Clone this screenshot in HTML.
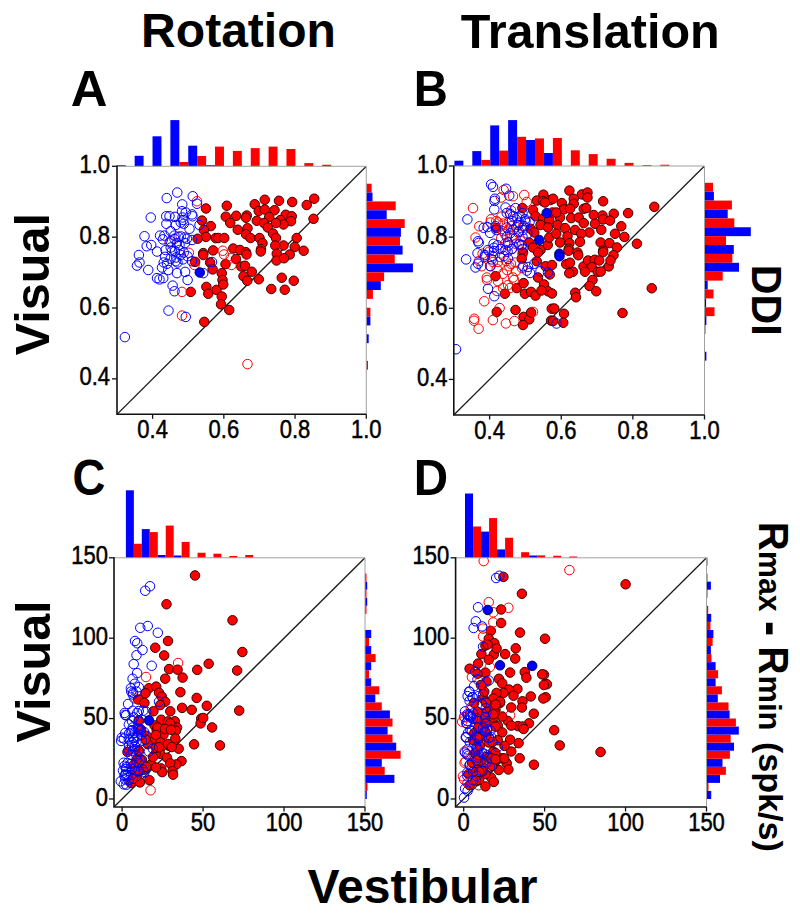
<!DOCTYPE html><html><head><meta charset="utf-8"><style>html,body{margin:0;padding:0;background:#fff;}svg{display:block;}text{font-family:"Liberation Sans",sans-serif;fill:#000;}.tl{stroke:#000;stroke-width:0.45px;}</style></head><body>
<svg width="800" height="917" viewBox="0 0 800 917">
<rect width="800" height="917" fill="#fff"/>
<rect x="116.8" y="165.2" width="8.93" height="1.1" fill="#0000ff"/>
<rect x="134.66" y="155.8" width="8.93" height="10.5" fill="#0000ff"/>
<rect x="152.52" y="136.3" width="8.93" height="30" fill="#0000ff"/>
<rect x="170.38" y="120.1" width="8.93" height="46.2" fill="#0000ff"/>
<rect x="188.24" y="145.7" width="8.93" height="20.6" fill="#0000ff"/>
<rect x="206.1" y="165.2" width="8.93" height="1.1" fill="#0000ff"/>
<rect x="179.31" y="162" width="8.93" height="4.3" fill="#ff0000"/>
<rect x="197.17" y="156" width="8.93" height="10.3" fill="#ff0000"/>
<rect x="215.03" y="146.6" width="8.93" height="19.7" fill="#ff0000"/>
<rect x="232.89" y="150.9" width="8.93" height="15.4" fill="#ff0000"/>
<rect x="250.75" y="148.1" width="8.93" height="18.2" fill="#ff0000"/>
<rect x="268.61" y="146.6" width="8.93" height="19.7" fill="#ff0000"/>
<rect x="286.47" y="149" width="8.93" height="17.3" fill="#ff0000"/>
<rect x="304.33" y="163.1" width="8.93" height="3.2" fill="#ff0000"/>
<rect x="322.19" y="164.75" width="8.93" height="1.55" fill="#ff0000"/>
<rect x="366.3" y="183.71" width="5.3" height="8.86" fill="#ff0000"/>
<rect x="366.3" y="192.57" width="6.2" height="8.86" fill="#0000ff"/>
<rect x="366.3" y="201.43" width="29.4" height="8.86" fill="#ff0000"/>
<rect x="366.3" y="210.28" width="20.4" height="8.86" fill="#0000ff"/>
<rect x="366.3" y="219.14" width="38.4" height="8.86" fill="#ff0000"/>
<rect x="366.3" y="228" width="34.6" height="8.86" fill="#0000ff"/>
<rect x="366.3" y="236.86" width="33.7" height="8.86" fill="#ff0000"/>
<rect x="366.3" y="245.71" width="36.3" height="8.86" fill="#0000ff"/>
<rect x="366.3" y="254.57" width="28.45" height="8.86" fill="#ff0000"/>
<rect x="366.3" y="263.43" width="46.6" height="8.86" fill="#0000ff"/>
<rect x="366.3" y="272.28" width="17.8" height="8.86" fill="#ff0000"/>
<rect x="366.3" y="281.14" width="14.5" height="8.86" fill="#0000ff"/>
<rect x="366.3" y="290" width="6.6" height="8.86" fill="#ff0000"/>
<rect x="366.3" y="307.71" width="4.1" height="8.86" fill="#ff0000"/>
<rect x="366.3" y="316.57" width="4.1" height="8.86" fill="#0000ff"/>
<rect x="366.3" y="334.28" width="2.4" height="8.86" fill="#0000ff"/>
<rect x="366.3" y="360.85" width="1.7" height="8.86" fill="#ff0000"/>
<rect x="454.4" y="160.7" width="8.95" height="5.3" fill="#0000ff"/>
<rect x="472.31" y="151.1" width="8.95" height="14.9" fill="#0000ff"/>
<rect x="490.22" y="125.4" width="8.95" height="40.6" fill="#0000ff"/>
<rect x="508.13" y="120.1" width="8.96" height="45.9" fill="#0000ff"/>
<rect x="526.04" y="140" width="8.96" height="26" fill="#0000ff"/>
<rect x="543.95" y="153" width="8.96" height="13" fill="#0000ff"/>
<rect x="481.26" y="159.9" width="8.95" height="6.1" fill="#ff0000"/>
<rect x="499.17" y="150.6" width="8.95" height="15.4" fill="#ff0000"/>
<rect x="517.09" y="136.8" width="8.96" height="29.2" fill="#ff0000"/>
<rect x="535" y="138.4" width="8.96" height="27.6" fill="#ff0000"/>
<rect x="552.9" y="138" width="8.96" height="28" fill="#ff0000"/>
<rect x="570.82" y="150.3" width="8.96" height="15.7" fill="#ff0000"/>
<rect x="588.73" y="154.1" width="8.96" height="11.9" fill="#ff0000"/>
<rect x="606.63" y="158.75" width="8.96" height="7.25" fill="#ff0000"/>
<rect x="624.54" y="162.9" width="8.96" height="3.1" fill="#ff0000"/>
<rect x="642.46" y="165.1" width="8.96" height="0.9" fill="#ff0000"/>
<rect x="660.37" y="164.75" width="8.96" height="1.25" fill="#ff0000"/>
<rect x="704.5" y="182.79" width="8.5" height="8.89" fill="#ff0000"/>
<rect x="704.5" y="191.68" width="9.4" height="8.89" fill="#0000ff"/>
<rect x="704.5" y="200.57" width="27.4" height="8.89" fill="#ff0000"/>
<rect x="704.5" y="209.47" width="23.2" height="8.89" fill="#0000ff"/>
<rect x="704.5" y="218.36" width="29.8" height="8.89" fill="#ff0000"/>
<rect x="704.5" y="227.25" width="46.3" height="8.89" fill="#0000ff"/>
<rect x="704.5" y="236.14" width="21.5" height="8.89" fill="#ff0000"/>
<rect x="704.5" y="245.04" width="29.3" height="8.89" fill="#0000ff"/>
<rect x="704.5" y="253.93" width="27.8" height="8.89" fill="#ff0000"/>
<rect x="704.5" y="262.82" width="34.5" height="8.89" fill="#0000ff"/>
<rect x="704.5" y="271.72" width="18.2" height="8.89" fill="#ff0000"/>
<rect x="704.5" y="280.61" width="3.2" height="8.89" fill="#0000ff"/>
<rect x="704.5" y="289.5" width="9" height="8.89" fill="#ff0000"/>
<rect x="704.5" y="298.39" width="1.6" height="8.89" fill="#0000ff"/>
<rect x="704.5" y="307.29" width="10" height="8.89" fill="#ff0000"/>
<rect x="704.5" y="316.18" width="1.9" height="8.89" fill="#0000ff"/>
<rect x="704.5" y="325.07" width="1" height="8.89" fill="#ff0000"/>
<rect x="704.5" y="351.75" width="1.9" height="8.89" fill="#0000ff"/>
<rect x="125.9" y="490.3" width="7.95" height="67.5" fill="#0000ff"/>
<rect x="141.8" y="529.1" width="7.95" height="28.7" fill="#0000ff"/>
<rect x="157.7" y="555" width="7.95" height="2.8" fill="#0000ff"/>
<rect x="173.6" y="555.5" width="7.95" height="2.3" fill="#0000ff"/>
<rect x="133.95" y="543.75" width="7.95" height="14.05" fill="#ff0000"/>
<rect x="149.85" y="532.1" width="7.95" height="25.7" fill="#ff0000"/>
<rect x="165.75" y="525.6" width="7.95" height="32.2" fill="#ff0000"/>
<rect x="181.65" y="541.9" width="7.95" height="15.9" fill="#ff0000"/>
<rect x="197.55" y="552.75" width="7.95" height="5.05" fill="#ff0000"/>
<rect x="213.45" y="553.7" width="7.95" height="4.1" fill="#ff0000"/>
<rect x="229.35" y="556" width="7.95" height="1.8" fill="#ff0000"/>
<rect x="245.25" y="555" width="7.95" height="2.8" fill="#ff0000"/>
<rect x="365" y="790.95" width="1.8" height="8.05" fill="#0000ff"/>
<rect x="365" y="782.9" width="2.5" height="8.05" fill="#ff0000"/>
<rect x="365" y="774.85" width="29.4" height="8.05" fill="#0000ff"/>
<rect x="365" y="766.8" width="19.7" height="8.05" fill="#ff0000"/>
<rect x="365" y="758.75" width="16.8" height="8.05" fill="#0000ff"/>
<rect x="365" y="750.7" width="35.6" height="8.05" fill="#ff0000"/>
<rect x="365" y="742.65" width="31.2" height="8.05" fill="#0000ff"/>
<rect x="365" y="734.6" width="27.5" height="8.05" fill="#ff0000"/>
<rect x="365" y="726.55" width="22.6" height="8.05" fill="#0000ff"/>
<rect x="365" y="718.5" width="27.5" height="8.05" fill="#ff0000"/>
<rect x="365" y="710.45" width="24.9" height="8.05" fill="#0000ff"/>
<rect x="365" y="702.4" width="16.8" height="8.05" fill="#ff0000"/>
<rect x="365" y="694.35" width="10.3" height="8.05" fill="#0000ff"/>
<rect x="365" y="686.3" width="14.3" height="8.05" fill="#ff0000"/>
<rect x="365" y="678.25" width="6.2" height="8.05" fill="#0000ff"/>
<rect x="365" y="670.2" width="4" height="8.05" fill="#ff0000"/>
<rect x="365" y="662.15" width="6.2" height="8.05" fill="#0000ff"/>
<rect x="365" y="654.1" width="10.6" height="8.05" fill="#ff0000"/>
<rect x="365" y="646.05" width="6.2" height="8.05" fill="#0000ff"/>
<rect x="365" y="638" width="4" height="8.05" fill="#ff0000"/>
<rect x="365" y="629.95" width="6.2" height="8.05" fill="#0000ff"/>
<rect x="365" y="605.8" width="1.5" height="8.05" fill="#ff0000"/>
<rect x="365" y="597.75" width="2.2" height="8.05" fill="#0000ff"/>
<rect x="365" y="589.7" width="1.5" height="8.05" fill="#ff0000"/>
<rect x="365" y="581.65" width="2.2" height="8.05" fill="#0000ff"/>
<rect x="365" y="573.6" width="1.5" height="8.05" fill="#ff0000"/>
<rect x="465" y="493.5" width="8" height="64.3" fill="#0000ff"/>
<rect x="481.03" y="531.6" width="8" height="26.2" fill="#0000ff"/>
<rect x="497.06" y="549.4" width="8" height="8.4" fill="#0000ff"/>
<rect x="529.12" y="555.5" width="8" height="2.3" fill="#0000ff"/>
<rect x="473.05" y="526.5" width="8" height="31.3" fill="#ff0000"/>
<rect x="489.08" y="518.1" width="8" height="39.7" fill="#ff0000"/>
<rect x="505.11" y="537.75" width="8" height="20.05" fill="#ff0000"/>
<rect x="521.14" y="552.2" width="8" height="5.6" fill="#ff0000"/>
<rect x="537.17" y="555.4" width="8" height="2.4" fill="#ff0000"/>
<rect x="553.2" y="555.75" width="8" height="2.05" fill="#ff0000"/>
<rect x="569.23" y="556.5" width="8" height="1.3" fill="#ff0000"/>
<rect x="706.5" y="790.95" width="4.7" height="8.05" fill="#0000ff"/>
<rect x="706.5" y="782.9" width="2" height="8.05" fill="#ff0000"/>
<rect x="706.5" y="774.85" width="13.5" height="8.05" fill="#0000ff"/>
<rect x="706.5" y="766.8" width="19.4" height="8.05" fill="#ff0000"/>
<rect x="706.5" y="758.75" width="16" height="8.05" fill="#0000ff"/>
<rect x="706.5" y="750.7" width="23.4" height="8.05" fill="#ff0000"/>
<rect x="706.5" y="742.65" width="27.5" height="8.05" fill="#0000ff"/>
<rect x="706.5" y="734.6" width="24.2" height="8.05" fill="#ff0000"/>
<rect x="706.5" y="726.55" width="32.3" height="8.05" fill="#0000ff"/>
<rect x="706.5" y="718.5" width="29.4" height="8.05" fill="#ff0000"/>
<rect x="706.5" y="710.45" width="23.1" height="8.05" fill="#0000ff"/>
<rect x="706.5" y="702.4" width="22" height="8.05" fill="#ff0000"/>
<rect x="706.5" y="694.35" width="11.3" height="8.05" fill="#0000ff"/>
<rect x="706.5" y="686.3" width="15.4" height="8.05" fill="#ff0000"/>
<rect x="706.5" y="678.25" width="9.1" height="8.05" fill="#0000ff"/>
<rect x="706.5" y="670.2" width="11.6" height="8.05" fill="#ff0000"/>
<rect x="706.5" y="662.15" width="9.1" height="8.05" fill="#0000ff"/>
<rect x="706.5" y="654.1" width="5" height="8.05" fill="#ff0000"/>
<rect x="706.5" y="646.05" width="4.4" height="8.05" fill="#0000ff"/>
<rect x="706.5" y="638" width="6.1" height="8.05" fill="#ff0000"/>
<rect x="706.5" y="629.95" width="6.9" height="8.05" fill="#0000ff"/>
<rect x="706.5" y="621.9" width="3.9" height="8.05" fill="#ff0000"/>
<rect x="706.5" y="613.85" width="4.7" height="8.05" fill="#0000ff"/>
<rect x="706.5" y="605.8" width="1.7" height="8.05" fill="#ff0000"/>
<rect x="706.5" y="589.7" width="1" height="8.05" fill="#ff0000"/>
<rect x="706.5" y="581.65" width="4.4" height="8.05" fill="#0000ff"/>
<rect x="706.5" y="573.6" width="1" height="8.05" fill="#ff0000"/>
<rect x="706.5" y="557.5" width="1" height="8.05" fill="#ff0000"/>
<clipPath id="ca"><rect x="117" y="166.3" width="249.3" height="248"/></clipPath>
<g clip-path="url(#ca)">
<line x1="117" y1="414.3" x2="366.3" y2="166.3" stroke="#1a1a1a" stroke-width="1.3"/>
<circle cx="206" cy="208.5" r="4.75" fill="#ff0000" stroke="#3a0000" stroke-width="1.0"/>
<circle cx="202" cy="220.6" r="4.75" fill="#ff0000" stroke="#3a0000" stroke-width="1.0"/>
<circle cx="210.8" cy="226.12" r="4.75" fill="#ff0000" stroke="#3a0000" stroke-width="1.0"/>
<circle cx="203.9" cy="230" r="4.75" fill="#ff0000" stroke="#3a0000" stroke-width="1.0"/>
<circle cx="206" cy="236.9" r="4.75" fill="#ff0000" stroke="#3a0000" stroke-width="1.0"/>
<circle cx="197.6" cy="238.75" r="4.75" fill="#ff0000" stroke="#3a0000" stroke-width="1.0"/>
<circle cx="215.75" cy="238.1" r="4.75" fill="#ff0000" stroke="#3a0000" stroke-width="1.0"/>
<circle cx="203.25" cy="253.1" r="4.75" fill="#ff0000" stroke="#3a0000" stroke-width="1.0"/>
<circle cx="213.12" cy="250.38" r="4.75" fill="#ff0000" stroke="#3a0000" stroke-width="1.0"/>
<circle cx="203.25" cy="255" r="4.75" fill="#ff0000" stroke="#3a0000" stroke-width="1.0"/>
<circle cx="195.1" cy="261.9" r="4.75" fill="#ff0000" stroke="#3a0000" stroke-width="1.0"/>
<circle cx="210.1" cy="262.5" r="4.75" fill="#ff0000" stroke="#3a0000" stroke-width="1.0"/>
<circle cx="212.6" cy="269.4" r="4.75" fill="#ff0000" stroke="#3a0000" stroke-width="1.0"/>
<circle cx="206.4" cy="286.9" r="4.75" fill="#ff0000" stroke="#3a0000" stroke-width="1.0"/>
<circle cx="190.75" cy="291.9" r="4.75" fill="#ff0000" stroke="#3a0000" stroke-width="1.0"/>
<circle cx="208.25" cy="293.75" r="4.75" fill="#ff0000" stroke="#3a0000" stroke-width="1.0"/>
<circle cx="216.5" cy="289.88" r="4.75" fill="#ff0000" stroke="#3a0000" stroke-width="1.0"/>
<circle cx="204.25" cy="321.9" r="4.75" fill="#ff0000" stroke="#3a0000" stroke-width="1.0"/>
<circle cx="226.8" cy="205.75" r="4.75" fill="#ff0000" stroke="#3a0000" stroke-width="1.0"/>
<circle cx="264.75" cy="199.75" r="4.75" fill="#ff0000" stroke="#3a0000" stroke-width="1.0"/>
<circle cx="279" cy="200.8" r="4.75" fill="#ff0000" stroke="#3a0000" stroke-width="1.0"/>
<circle cx="292.2" cy="202" r="4.75" fill="#ff0000" stroke="#3a0000" stroke-width="1.0"/>
<circle cx="314.25" cy="198.7" r="4.75" fill="#ff0000" stroke="#3a0000" stroke-width="1.0"/>
<circle cx="306.75" cy="205" r="4.75" fill="#ff0000" stroke="#3a0000" stroke-width="1.0"/>
<circle cx="254.7" cy="204.25" r="4.75" fill="#ff0000" stroke="#3a0000" stroke-width="1.0"/>
<circle cx="225.75" cy="216.7" r="4.75" fill="#ff0000" stroke="#3a0000" stroke-width="1.0"/>
<circle cx="236.25" cy="215.8" r="4.75" fill="#ff0000" stroke="#3a0000" stroke-width="1.0"/>
<circle cx="246.75" cy="215.5" r="4.75" fill="#ff0000" stroke="#3a0000" stroke-width="1.0"/>
<circle cx="246" cy="217.75" r="4.75" fill="#ff0000" stroke="#3a0000" stroke-width="1.0"/>
<circle cx="258.75" cy="211" r="4.75" fill="#ff0000" stroke="#3a0000" stroke-width="1.0"/>
<circle cx="264.75" cy="209.5" r="4.75" fill="#ff0000" stroke="#3a0000" stroke-width="1.0"/>
<circle cx="274.5" cy="210.25" r="4.75" fill="#ff0000" stroke="#3a0000" stroke-width="1.0"/>
<circle cx="269.25" cy="217" r="4.75" fill="#ff0000" stroke="#3a0000" stroke-width="1.0"/>
<circle cx="256.8" cy="220.75" r="4.75" fill="#ff0000" stroke="#3a0000" stroke-width="1.0"/>
<circle cx="285.75" cy="214.75" r="4.75" fill="#ff0000" stroke="#3a0000" stroke-width="1.0"/>
<circle cx="291.75" cy="216.25" r="4.75" fill="#ff0000" stroke="#3a0000" stroke-width="1.0"/>
<circle cx="291" cy="221.2" r="4.75" fill="#ff0000" stroke="#3a0000" stroke-width="1.0"/>
<circle cx="280.5" cy="220" r="4.75" fill="#ff0000" stroke="#3a0000" stroke-width="1.0"/>
<circle cx="283.5" cy="224.5" r="4.75" fill="#ff0000" stroke="#3a0000" stroke-width="1.0"/>
<circle cx="276" cy="223" r="4.75" fill="#ff0000" stroke="#3a0000" stroke-width="1.0"/>
<circle cx="264" cy="223" r="4.75" fill="#ff0000" stroke="#3a0000" stroke-width="1.0"/>
<circle cx="267.75" cy="227.5" r="4.75" fill="#ff0000" stroke="#3a0000" stroke-width="1.0"/>
<circle cx="313.5" cy="218.8" r="4.75" fill="#ff0000" stroke="#3a0000" stroke-width="1.0"/>
<circle cx="230.25" cy="223" r="4.75" fill="#ff0000" stroke="#3a0000" stroke-width="1.0"/>
<circle cx="237.75" cy="229.75" r="4.75" fill="#ff0000" stroke="#3a0000" stroke-width="1.0"/>
<circle cx="247.5" cy="228.25" r="4.75" fill="#ff0000" stroke="#3a0000" stroke-width="1.0"/>
<circle cx="246" cy="234.25" r="4.75" fill="#ff0000" stroke="#3a0000" stroke-width="1.0"/>
<circle cx="250.5" cy="238" r="4.75" fill="#ff0000" stroke="#3a0000" stroke-width="1.0"/>
<circle cx="273" cy="233.5" r="4.75" fill="#ff0000" stroke="#3a0000" stroke-width="1.0"/>
<circle cx="276" cy="238" r="4.75" fill="#ff0000" stroke="#3a0000" stroke-width="1.0"/>
<circle cx="259.5" cy="238" r="4.75" fill="#ff0000" stroke="#3a0000" stroke-width="1.0"/>
<circle cx="262.5" cy="243.25" r="4.75" fill="#ff0000" stroke="#3a0000" stroke-width="1.0"/>
<circle cx="218.25" cy="238" r="4.75" fill="#ff0000" stroke="#3a0000" stroke-width="1.0"/>
<circle cx="224.25" cy="238" r="4.75" fill="#ff0000" stroke="#3a0000" stroke-width="1.0"/>
<circle cx="296.7" cy="238" r="4.75" fill="#ff0000" stroke="#3a0000" stroke-width="1.0"/>
<circle cx="283.5" cy="245.5" r="4.75" fill="#ff0000" stroke="#3a0000" stroke-width="1.0"/>
<circle cx="275.25" cy="245.5" r="4.75" fill="#ff0000" stroke="#3a0000" stroke-width="1.0"/>
<circle cx="294.75" cy="247" r="4.75" fill="#ff0000" stroke="#3a0000" stroke-width="1.0"/>
<circle cx="303.62" cy="250.75" r="4.75" fill="#ff0000" stroke="#3a0000" stroke-width="1.0"/>
<circle cx="233.25" cy="248.5" r="4.75" fill="#ff0000" stroke="#3a0000" stroke-width="1.0"/>
<circle cx="240" cy="250" r="4.75" fill="#ff0000" stroke="#3a0000" stroke-width="1.0"/>
<circle cx="246" cy="252.25" r="4.75" fill="#ff0000" stroke="#3a0000" stroke-width="1.0"/>
<circle cx="261" cy="249.25" r="4.75" fill="#ff0000" stroke="#3a0000" stroke-width="1.0"/>
<circle cx="276.75" cy="253.75" r="4.75" fill="#ff0000" stroke="#3a0000" stroke-width="1.0"/>
<circle cx="289.75" cy="254.5" r="4.75" fill="#ff0000" stroke="#3a0000" stroke-width="1.0"/>
<circle cx="236" cy="259" r="4.75" fill="#ff0000" stroke="#3a0000" stroke-width="1.0"/>
<circle cx="246.5" cy="254.5" r="4.75" fill="#ff0000" stroke="#3a0000" stroke-width="1.0"/>
<circle cx="260.75" cy="251.5" r="4.75" fill="#ff0000" stroke="#3a0000" stroke-width="1.0"/>
<circle cx="225.5" cy="264.25" r="4.75" fill="#ff0000" stroke="#3a0000" stroke-width="1.0"/>
<circle cx="221.75" cy="273.25" r="4.75" fill="#ff0000" stroke="#3a0000" stroke-width="1.0"/>
<circle cx="222.5" cy="280" r="4.75" fill="#ff0000" stroke="#3a0000" stroke-width="1.0"/>
<circle cx="223.25" cy="284.5" r="4.75" fill="#ff0000" stroke="#3a0000" stroke-width="1.0"/>
<circle cx="241.25" cy="266.5" r="4.75" fill="#ff0000" stroke="#3a0000" stroke-width="1.0"/>
<circle cx="245" cy="265.75" r="4.75" fill="#ff0000" stroke="#3a0000" stroke-width="1.0"/>
<circle cx="251.75" cy="271.75" r="4.75" fill="#ff0000" stroke="#3a0000" stroke-width="1.0"/>
<circle cx="243.5" cy="276.25" r="4.75" fill="#ff0000" stroke="#3a0000" stroke-width="1.0"/>
<circle cx="247.25" cy="280.75" r="4.75" fill="#ff0000" stroke="#3a0000" stroke-width="1.0"/>
<circle cx="258.8" cy="279.25" r="4.75" fill="#ff0000" stroke="#3a0000" stroke-width="1.0"/>
<circle cx="221.75" cy="296.5" r="4.75" fill="#ff0000" stroke="#3a0000" stroke-width="1.0"/>
<circle cx="221" cy="304.3" r="4.75" fill="#ff0000" stroke="#3a0000" stroke-width="1.0"/>
<circle cx="229.25" cy="310" r="4.75" fill="#ff0000" stroke="#3a0000" stroke-width="1.0"/>
<circle cx="276.5" cy="260.5" r="4.75" fill="#ff0000" stroke="#3a0000" stroke-width="1.0"/>
<circle cx="284" cy="258.25" r="4.75" fill="#ff0000" stroke="#3a0000" stroke-width="1.0"/>
<circle cx="281.75" cy="277.75" r="4.75" fill="#ff0000" stroke="#3a0000" stroke-width="1.0"/>
<circle cx="293.75" cy="280.75" r="4.75" fill="#ff0000" stroke="#3a0000" stroke-width="1.0"/>
<circle cx="271.25" cy="289" r="4.75" fill="#ff0000" stroke="#3a0000" stroke-width="1.0"/>
<circle cx="284.75" cy="289.75" r="4.75" fill="#ff0000" stroke="#3a0000" stroke-width="1.0"/>
<circle cx="197" cy="201.25" r="4.75" fill="none" stroke="#ff0000" stroke-width="1.0"/>
<circle cx="169.5" cy="242.5" r="4.75" fill="none" stroke="#ff0000" stroke-width="1.0"/>
<circle cx="180.75" cy="236.25" r="4.75" fill="none" stroke="#ff0000" stroke-width="1.0"/>
<circle cx="188.88" cy="252.8" r="4.75" fill="none" stroke="#ff0000" stroke-width="1.0"/>
<circle cx="182" cy="291.9" r="4.75" fill="none" stroke="#ff0000" stroke-width="1.0"/>
<circle cx="182" cy="315.6" r="4.75" fill="none" stroke="#ff0000" stroke-width="1.0"/>
<circle cx="194.5" cy="265" r="4.75" fill="none" stroke="#ff0000" stroke-width="1.0"/>
<circle cx="222.75" cy="250.75" r="4.75" fill="none" stroke="#ff0000" stroke-width="1.0"/>
<circle cx="224" cy="254.5" r="4.75" fill="none" stroke="#ff0000" stroke-width="1.0"/>
<circle cx="230.75" cy="258.25" r="4.75" fill="none" stroke="#ff0000" stroke-width="1.0"/>
<circle cx="231.5" cy="265" r="4.75" fill="none" stroke="#ff0000" stroke-width="1.0"/>
<circle cx="247.5" cy="364.1" r="4.75" fill="none" stroke="#ff0000" stroke-width="1.0"/>
<circle cx="177.25" cy="192.5" r="4.75" fill="none" stroke="#0000ff" stroke-width="1.0"/>
<circle cx="166.75" cy="198.1" r="4.75" fill="none" stroke="#0000ff" stroke-width="1.0"/>
<circle cx="192.75" cy="196.25" r="4.75" fill="none" stroke="#0000ff" stroke-width="1.0"/>
<circle cx="197" cy="203.75" r="4.75" fill="none" stroke="#0000ff" stroke-width="1.0"/>
<circle cx="182.25" cy="204.4" r="4.75" fill="none" stroke="#0000ff" stroke-width="1.0"/>
<circle cx="150.75" cy="217.5" r="4.75" fill="none" stroke="#0000ff" stroke-width="1.0"/>
<circle cx="169.5" cy="216.25" r="4.75" fill="none" stroke="#0000ff" stroke-width="1.0"/>
<circle cx="182" cy="211.25" r="4.75" fill="none" stroke="#0000ff" stroke-width="1.0"/>
<circle cx="192" cy="214.4" r="4.75" fill="none" stroke="#0000ff" stroke-width="1.0"/>
<circle cx="185.75" cy="212.5" r="4.75" fill="none" stroke="#0000ff" stroke-width="1.0"/>
<circle cx="166.4" cy="223.75" r="4.75" fill="none" stroke="#0000ff" stroke-width="1.0"/>
<circle cx="175.75" cy="225" r="4.75" fill="none" stroke="#0000ff" stroke-width="1.0"/>
<circle cx="180.75" cy="222.5" r="4.75" fill="none" stroke="#0000ff" stroke-width="1.0"/>
<circle cx="183.25" cy="220" r="4.75" fill="none" stroke="#0000ff" stroke-width="1.0"/>
<circle cx="189.5" cy="228.75" r="4.75" fill="none" stroke="#0000ff" stroke-width="1.0"/>
<circle cx="144.5" cy="236.25" r="4.75" fill="none" stroke="#0000ff" stroke-width="1.0"/>
<circle cx="160.1" cy="235.6" r="4.75" fill="none" stroke="#0000ff" stroke-width="1.0"/>
<circle cx="146.7" cy="246.25" r="4.75" fill="none" stroke="#0000ff" stroke-width="1.0"/>
<circle cx="157" cy="251.57" r="4.75" fill="none" stroke="#0000ff" stroke-width="1.0"/>
<circle cx="170.75" cy="231.25" r="4.75" fill="none" stroke="#0000ff" stroke-width="1.0"/>
<circle cx="174.5" cy="238.75" r="4.75" fill="none" stroke="#0000ff" stroke-width="1.0"/>
<circle cx="162.88" cy="239.38" r="4.75" fill="none" stroke="#0000ff" stroke-width="1.0"/>
<circle cx="184.5" cy="237.5" r="4.75" fill="none" stroke="#0000ff" stroke-width="1.0"/>
<circle cx="192" cy="240" r="4.75" fill="none" stroke="#0000ff" stroke-width="1.0"/>
<circle cx="179.5" cy="245" r="4.75" fill="none" stroke="#0000ff" stroke-width="1.0"/>
<circle cx="170.75" cy="247.5" r="4.75" fill="none" stroke="#0000ff" stroke-width="1.0"/>
<circle cx="138.9" cy="255" r="4.75" fill="none" stroke="#0000ff" stroke-width="1.0"/>
<circle cx="199.5" cy="225" r="4.75" fill="none" stroke="#0000ff" stroke-width="1.0"/>
<circle cx="137" cy="265.6" r="4.75" fill="none" stroke="#0000ff" stroke-width="1.0"/>
<circle cx="139.5" cy="262.5" r="4.75" fill="none" stroke="#0000ff" stroke-width="1.0"/>
<circle cx="148.25" cy="270" r="4.75" fill="none" stroke="#0000ff" stroke-width="1.0"/>
<circle cx="165.05" cy="256.88" r="4.75" fill="none" stroke="#0000ff" stroke-width="1.0"/>
<circle cx="172" cy="251.25" r="4.75" fill="none" stroke="#0000ff" stroke-width="1.0"/>
<circle cx="175.75" cy="261.25" r="4.75" fill="none" stroke="#0000ff" stroke-width="1.0"/>
<circle cx="167" cy="263.75" r="4.75" fill="none" stroke="#0000ff" stroke-width="1.0"/>
<circle cx="162" cy="267.5" r="4.75" fill="none" stroke="#0000ff" stroke-width="1.0"/>
<circle cx="168.25" cy="270" r="4.75" fill="none" stroke="#0000ff" stroke-width="1.0"/>
<circle cx="177" cy="273.1" r="4.75" fill="none" stroke="#0000ff" stroke-width="1.0"/>
<circle cx="182.88" cy="259.38" r="4.75" fill="none" stroke="#0000ff" stroke-width="1.0"/>
<circle cx="180.75" cy="255" r="4.75" fill="none" stroke="#0000ff" stroke-width="1.0"/>
<circle cx="185.1" cy="271.9" r="4.75" fill="none" stroke="#0000ff" stroke-width="1.0"/>
<circle cx="187.6" cy="280" r="4.75" fill="none" stroke="#0000ff" stroke-width="1.0"/>
<circle cx="157" cy="278.1" r="4.75" fill="none" stroke="#0000ff" stroke-width="1.0"/>
<circle cx="163.25" cy="278.1" r="4.75" fill="none" stroke="#0000ff" stroke-width="1.0"/>
<circle cx="159.5" cy="279.4" r="4.75" fill="none" stroke="#0000ff" stroke-width="1.0"/>
<circle cx="172.6" cy="285.6" r="4.75" fill="none" stroke="#0000ff" stroke-width="1.0"/>
<circle cx="174.5" cy="291.25" r="4.75" fill="none" stroke="#0000ff" stroke-width="1.0"/>
<circle cx="168.5" cy="310.6" r="4.75" fill="none" stroke="#0000ff" stroke-width="1.0"/>
<circle cx="185.75" cy="316.9" r="4.75" fill="none" stroke="#0000ff" stroke-width="1.0"/>
<circle cx="203.25" cy="273.1" r="4.75" fill="none" stroke="#0000ff" stroke-width="1.0"/>
<circle cx="192" cy="261.25" r="4.75" fill="none" stroke="#0000ff" stroke-width="1.0"/>
<circle cx="212" cy="262" r="4.75" fill="none" stroke="#0000ff" stroke-width="1.0"/>
<circle cx="124.9" cy="337.1" r="4.75" fill="none" stroke="#0000ff" stroke-width="1.0"/>
<circle cx="183.75" cy="223.75" r="4.75" fill="none" stroke="#0000ff" stroke-width="1.0"/>
<circle cx="164.4" cy="235.6" r="4.75" fill="none" stroke="#0000ff" stroke-width="1.0"/>
<circle cx="174.4" cy="235.6" r="4.75" fill="none" stroke="#0000ff" stroke-width="1.0"/>
<circle cx="178.75" cy="236.9" r="4.75" fill="none" stroke="#0000ff" stroke-width="1.0"/>
<circle cx="186.9" cy="238.75" r="4.75" fill="none" stroke="#0000ff" stroke-width="1.0"/>
<circle cx="170.6" cy="241.25" r="4.75" fill="none" stroke="#0000ff" stroke-width="1.0"/>
<circle cx="176.9" cy="243.1" r="4.75" fill="none" stroke="#0000ff" stroke-width="1.0"/>
<circle cx="185" cy="243.1" r="4.75" fill="none" stroke="#0000ff" stroke-width="1.0"/>
<circle cx="165.6" cy="250" r="4.75" fill="none" stroke="#0000ff" stroke-width="1.0"/>
<circle cx="175" cy="251.25" r="4.75" fill="none" stroke="#0000ff" stroke-width="1.0"/>
<circle cx="179.4" cy="250" r="4.75" fill="none" stroke="#0000ff" stroke-width="1.0"/>
<circle cx="183.75" cy="252.5" r="4.75" fill="none" stroke="#0000ff" stroke-width="1.0"/>
<circle cx="170.6" cy="258.75" r="4.75" fill="none" stroke="#0000ff" stroke-width="1.0"/>
<circle cx="176.25" cy="257.5" r="4.75" fill="none" stroke="#0000ff" stroke-width="1.0"/>
<circle cx="187.5" cy="256.25" r="4.75" fill="none" stroke="#0000ff" stroke-width="1.0"/>
<circle cx="163.75" cy="262.5" r="4.75" fill="none" stroke="#0000ff" stroke-width="1.0"/>
<circle cx="177.5" cy="262.5" r="4.75" fill="none" stroke="#0000ff" stroke-width="1.0"/>
<circle cx="151.25" cy="245" r="4.75" fill="none" stroke="#0000ff" stroke-width="1.0"/>
<circle cx="192.5" cy="216.25" r="4.75" fill="none" stroke="#0000ff" stroke-width="1.0"/>
<circle cx="166.25" cy="216.25" r="4.75" fill="none" stroke="#0000ff" stroke-width="1.0"/>
<circle cx="175" cy="216.9" r="4.75" fill="none" stroke="#0000ff" stroke-width="1.0"/>
<circle cx="182.5" cy="217.5" r="4.75" fill="none" stroke="#0000ff" stroke-width="1.0"/>
<circle cx="199.75" cy="272.5" r="4.75" fill="#0000ff" stroke="#000060" stroke-width="1.0"/>
</g>
<clipPath id="cb"><rect x="453.8" y="166" width="250.7" height="249"/></clipPath>
<g clip-path="url(#cb)">
<line x1="453.8" y1="415" x2="704.5" y2="166" stroke="#1a1a1a" stroke-width="1.3"/>
<circle cx="496.1" cy="228.1" r="4.75" fill="#ff0000" stroke="#3a0000" stroke-width="1.0"/>
<circle cx="522.4" cy="208.1" r="4.75" fill="#ff0000" stroke="#3a0000" stroke-width="1.0"/>
<circle cx="543.38" cy="194.7" r="4.75" fill="#ff0000" stroke="#3a0000" stroke-width="1.0"/>
<circle cx="536.75" cy="200.6" r="4.75" fill="#ff0000" stroke="#3a0000" stroke-width="1.0"/>
<circle cx="543" cy="201.25" r="4.75" fill="#ff0000" stroke="#3a0000" stroke-width="1.0"/>
<circle cx="550.5" cy="200" r="4.75" fill="#ff0000" stroke="#3a0000" stroke-width="1.0"/>
<circle cx="533" cy="210" r="4.75" fill="#ff0000" stroke="#3a0000" stroke-width="1.0"/>
<circle cx="535.5" cy="216.25" r="4.75" fill="#ff0000" stroke="#3a0000" stroke-width="1.0"/>
<circle cx="543" cy="218.75" r="4.75" fill="#ff0000" stroke="#3a0000" stroke-width="1.0"/>
<circle cx="549.25" cy="220" r="4.75" fill="#ff0000" stroke="#3a0000" stroke-width="1.0"/>
<circle cx="540.5" cy="225" r="4.75" fill="#ff0000" stroke="#3a0000" stroke-width="1.0"/>
<circle cx="548" cy="227.5" r="4.75" fill="#ff0000" stroke="#3a0000" stroke-width="1.0"/>
<circle cx="530.5" cy="228.75" r="4.75" fill="#ff0000" stroke="#3a0000" stroke-width="1.0"/>
<circle cx="534.25" cy="232.5" r="4.75" fill="#ff0000" stroke="#3a0000" stroke-width="1.0"/>
<circle cx="529.25" cy="242.5" r="4.75" fill="#ff0000" stroke="#3a0000" stroke-width="1.0"/>
<circle cx="533" cy="247.5" r="4.75" fill="#ff0000" stroke="#3a0000" stroke-width="1.0"/>
<circle cx="540.5" cy="250" r="4.75" fill="#ff0000" stroke="#3a0000" stroke-width="1.0"/>
<circle cx="547.75" cy="245" r="4.75" fill="#ff0000" stroke="#3a0000" stroke-width="1.0"/>
<circle cx="549.25" cy="237.5" r="4.75" fill="#ff0000" stroke="#3a0000" stroke-width="1.0"/>
<circle cx="523" cy="252.5" r="4.75" fill="#ff0000" stroke="#3a0000" stroke-width="1.0"/>
<circle cx="553.1" cy="198.75" r="4.75" fill="#ff0000" stroke="#3a0000" stroke-width="1.0"/>
<circle cx="569.4" cy="190.6" r="4.75" fill="#ff0000" stroke="#3a0000" stroke-width="1.0"/>
<circle cx="581.9" cy="194.4" r="4.75" fill="#ff0000" stroke="#3a0000" stroke-width="1.0"/>
<circle cx="587.5" cy="192.5" r="4.75" fill="#ff0000" stroke="#3a0000" stroke-width="1.0"/>
<circle cx="587.5" cy="197.5" r="4.75" fill="#ff0000" stroke="#3a0000" stroke-width="1.0"/>
<circle cx="573.75" cy="198.75" r="4.75" fill="#ff0000" stroke="#3a0000" stroke-width="1.0"/>
<circle cx="561.9" cy="203.1" r="4.75" fill="#ff0000" stroke="#3a0000" stroke-width="1.0"/>
<circle cx="573.75" cy="203.75" r="4.75" fill="#ff0000" stroke="#3a0000" stroke-width="1.0"/>
<circle cx="603.1" cy="201.25" r="4.75" fill="#ff0000" stroke="#3a0000" stroke-width="1.0"/>
<circle cx="563.75" cy="209.4" r="4.75" fill="#ff0000" stroke="#3a0000" stroke-width="1.0"/>
<circle cx="570" cy="208.75" r="4.75" fill="#ff0000" stroke="#3a0000" stroke-width="1.0"/>
<circle cx="583.75" cy="208.75" r="4.75" fill="#ff0000" stroke="#3a0000" stroke-width="1.0"/>
<circle cx="586.25" cy="208.1" r="4.75" fill="#ff0000" stroke="#3a0000" stroke-width="1.0"/>
<circle cx="593.75" cy="215" r="4.75" fill="#ff0000" stroke="#3a0000" stroke-width="1.0"/>
<circle cx="602.5" cy="215.6" r="4.75" fill="#ff0000" stroke="#3a0000" stroke-width="1.0"/>
<circle cx="613.75" cy="213.75" r="4.75" fill="#ff0000" stroke="#3a0000" stroke-width="1.0"/>
<circle cx="628.1" cy="213.1" r="4.75" fill="#ff0000" stroke="#3a0000" stroke-width="1.0"/>
<circle cx="560" cy="217.5" r="4.75" fill="#ff0000" stroke="#3a0000" stroke-width="1.0"/>
<circle cx="571.25" cy="218.1" r="4.75" fill="#ff0000" stroke="#3a0000" stroke-width="1.0"/>
<circle cx="578.75" cy="217.5" r="4.75" fill="#ff0000" stroke="#3a0000" stroke-width="1.0"/>
<circle cx="583.75" cy="223.1" r="4.75" fill="#ff0000" stroke="#3a0000" stroke-width="1.0"/>
<circle cx="603.1" cy="219.4" r="4.75" fill="#ff0000" stroke="#3a0000" stroke-width="1.0"/>
<circle cx="610" cy="220.6" r="4.75" fill="#ff0000" stroke="#3a0000" stroke-width="1.0"/>
<circle cx="595" cy="223.75" r="4.75" fill="#ff0000" stroke="#3a0000" stroke-width="1.0"/>
<circle cx="621.25" cy="226.25" r="4.75" fill="#ff0000" stroke="#3a0000" stroke-width="1.0"/>
<circle cx="557.5" cy="225" r="4.75" fill="#ff0000" stroke="#3a0000" stroke-width="1.0"/>
<circle cx="565" cy="228.1" r="4.75" fill="#ff0000" stroke="#3a0000" stroke-width="1.0"/>
<circle cx="575" cy="230" r="4.75" fill="#ff0000" stroke="#3a0000" stroke-width="1.0"/>
<circle cx="589.4" cy="232.5" r="4.75" fill="#ff0000" stroke="#3a0000" stroke-width="1.0"/>
<circle cx="601.3" cy="229.85" r="4.75" fill="#ff0000" stroke="#3a0000" stroke-width="1.0"/>
<circle cx="615" cy="233.75" r="4.75" fill="#ff0000" stroke="#3a0000" stroke-width="1.0"/>
<circle cx="624.4" cy="236.9" r="4.75" fill="#ff0000" stroke="#3a0000" stroke-width="1.0"/>
<circle cx="556.25" cy="233.75" r="4.75" fill="#ff0000" stroke="#3a0000" stroke-width="1.0"/>
<circle cx="567.5" cy="236.25" r="4.75" fill="#ff0000" stroke="#3a0000" stroke-width="1.0"/>
<circle cx="581.25" cy="233.75" r="4.75" fill="#ff0000" stroke="#3a0000" stroke-width="1.0"/>
<circle cx="560" cy="242.5" r="4.75" fill="#ff0000" stroke="#3a0000" stroke-width="1.0"/>
<circle cx="569.4" cy="243.1" r="4.75" fill="#ff0000" stroke="#3a0000" stroke-width="1.0"/>
<circle cx="580" cy="241.9" r="4.75" fill="#ff0000" stroke="#3a0000" stroke-width="1.0"/>
<circle cx="600.6" cy="242.5" r="4.75" fill="#ff0000" stroke="#3a0000" stroke-width="1.0"/>
<circle cx="609.4" cy="243.1" r="4.75" fill="#ff0000" stroke="#3a0000" stroke-width="1.0"/>
<circle cx="616.9" cy="247.5" r="4.75" fill="#ff0000" stroke="#3a0000" stroke-width="1.0"/>
<circle cx="636.9" cy="243.75" r="4.75" fill="#ff0000" stroke="#3a0000" stroke-width="1.0"/>
<circle cx="603.2" cy="250.65" r="4.75" fill="#ff0000" stroke="#3a0000" stroke-width="1.0"/>
<circle cx="577.5" cy="252.5" r="4.75" fill="#ff0000" stroke="#3a0000" stroke-width="1.0"/>
<circle cx="568.75" cy="248.75" r="4.75" fill="#ff0000" stroke="#3a0000" stroke-width="1.0"/>
<circle cx="552.5" cy="212.5" r="4.75" fill="#ff0000" stroke="#3a0000" stroke-width="1.0"/>
<circle cx="545" cy="202.5" r="4.75" fill="#ff0000" stroke="#3a0000" stroke-width="1.0"/>
<circle cx="556.25" cy="212.5" r="4.75" fill="#ff0000" stroke="#3a0000" stroke-width="1.0"/>
<circle cx="654.3" cy="206.8" r="4.75" fill="#ff0000" stroke="#3a0000" stroke-width="1.0"/>
<circle cx="495.5" cy="276.25" r="4.75" fill="#ff0000" stroke="#3a0000" stroke-width="1.0"/>
<circle cx="504.9" cy="293.75" r="4.75" fill="#ff0000" stroke="#3a0000" stroke-width="1.0"/>
<circle cx="516.75" cy="288.1" r="4.75" fill="#ff0000" stroke="#3a0000" stroke-width="1.0"/>
<circle cx="523.6" cy="283.1" r="4.75" fill="#ff0000" stroke="#3a0000" stroke-width="1.0"/>
<circle cx="524.9" cy="293.75" r="4.75" fill="#ff0000" stroke="#3a0000" stroke-width="1.0"/>
<circle cx="531.1" cy="291.9" r="4.75" fill="#ff0000" stroke="#3a0000" stroke-width="1.0"/>
<circle cx="535.5" cy="295.6" r="4.75" fill="#ff0000" stroke="#3a0000" stroke-width="1.0"/>
<circle cx="538" cy="277.5" r="4.75" fill="#ff0000" stroke="#3a0000" stroke-width="1.0"/>
<circle cx="544.05" cy="284.45" r="4.75" fill="#ff0000" stroke="#3a0000" stroke-width="1.0"/>
<circle cx="548" cy="291.25" r="4.75" fill="#ff0000" stroke="#3a0000" stroke-width="1.0"/>
<circle cx="521.75" cy="258.75" r="4.75" fill="#ff0000" stroke="#3a0000" stroke-width="1.0"/>
<circle cx="536.75" cy="261.25" r="4.75" fill="#ff0000" stroke="#3a0000" stroke-width="1.0"/>
<circle cx="545.5" cy="266.25" r="4.75" fill="#ff0000" stroke="#3a0000" stroke-width="1.0"/>
<circle cx="549.75" cy="274.5" r="4.75" fill="#ff0000" stroke="#3a0000" stroke-width="1.0"/>
<circle cx="496.75" cy="311.9" r="4.75" fill="#ff0000" stroke="#3a0000" stroke-width="1.0"/>
<circle cx="515.5" cy="310" r="4.75" fill="#ff0000" stroke="#3a0000" stroke-width="1.0"/>
<circle cx="523.6" cy="316.9" r="4.75" fill="#ff0000" stroke="#3a0000" stroke-width="1.0"/>
<circle cx="529.25" cy="319.4" r="4.75" fill="#ff0000" stroke="#3a0000" stroke-width="1.0"/>
<circle cx="531.1" cy="312.5" r="4.75" fill="#ff0000" stroke="#3a0000" stroke-width="1.0"/>
<circle cx="523" cy="325" r="4.75" fill="#ff0000" stroke="#3a0000" stroke-width="1.0"/>
<circle cx="551.75" cy="308.75" r="4.75" fill="#ff0000" stroke="#3a0000" stroke-width="1.0"/>
<circle cx="551.1" cy="320.6" r="4.75" fill="#ff0000" stroke="#3a0000" stroke-width="1.0"/>
<circle cx="538" cy="252.5" r="4.75" fill="#ff0000" stroke="#3a0000" stroke-width="1.0"/>
<circle cx="578.25" cy="255.25" r="4.75" fill="#ff0000" stroke="#3a0000" stroke-width="1.0"/>
<circle cx="568.5" cy="250.75" r="4.75" fill="#ff0000" stroke="#3a0000" stroke-width="1.0"/>
<circle cx="603" cy="252.25" r="4.75" fill="#ff0000" stroke="#3a0000" stroke-width="1.0"/>
<circle cx="613.5" cy="255.25" r="4.75" fill="#ff0000" stroke="#3a0000" stroke-width="1.0"/>
<circle cx="608.75" cy="266.4" r="4.75" fill="#ff0000" stroke="#3a0000" stroke-width="1.0"/>
<circle cx="610.5" cy="260.5" r="4.75" fill="#ff0000" stroke="#3a0000" stroke-width="1.0"/>
<circle cx="552" cy="265" r="4.75" fill="#ff0000" stroke="#3a0000" stroke-width="1.0"/>
<circle cx="566.25" cy="264.25" r="4.75" fill="#ff0000" stroke="#3a0000" stroke-width="1.0"/>
<circle cx="570" cy="262.75" r="4.75" fill="#ff0000" stroke="#3a0000" stroke-width="1.0"/>
<circle cx="573" cy="271.75" r="4.75" fill="#ff0000" stroke="#3a0000" stroke-width="1.0"/>
<circle cx="569.25" cy="273.25" r="4.75" fill="#ff0000" stroke="#3a0000" stroke-width="1.0"/>
<circle cx="583.5" cy="266.5" r="4.75" fill="#ff0000" stroke="#3a0000" stroke-width="1.0"/>
<circle cx="588" cy="260.5" r="4.75" fill="#ff0000" stroke="#3a0000" stroke-width="1.0"/>
<circle cx="594.75" cy="259.75" r="4.75" fill="#ff0000" stroke="#3a0000" stroke-width="1.0"/>
<circle cx="599.25" cy="260.5" r="4.75" fill="#ff0000" stroke="#3a0000" stroke-width="1.0"/>
<circle cx="591.75" cy="267.25" r="4.75" fill="#ff0000" stroke="#3a0000" stroke-width="1.0"/>
<circle cx="585" cy="271.75" r="4.75" fill="#ff0000" stroke="#3a0000" stroke-width="1.0"/>
<circle cx="597.75" cy="271.75" r="4.75" fill="#ff0000" stroke="#3a0000" stroke-width="1.0"/>
<circle cx="592.5" cy="280" r="4.75" fill="#ff0000" stroke="#3a0000" stroke-width="1.0"/>
<circle cx="589.5" cy="286" r="4.75" fill="#ff0000" stroke="#3a0000" stroke-width="1.0"/>
<circle cx="596.25" cy="291.25" r="4.75" fill="#ff0000" stroke="#3a0000" stroke-width="1.0"/>
<circle cx="575.25" cy="292.75" r="4.75" fill="#ff0000" stroke="#3a0000" stroke-width="1.0"/>
<circle cx="576" cy="297.25" r="4.75" fill="#ff0000" stroke="#3a0000" stroke-width="1.0"/>
<circle cx="541.5" cy="290.5" r="4.75" fill="#ff0000" stroke="#3a0000" stroke-width="1.0"/>
<circle cx="552" cy="293.5" r="4.75" fill="#ff0000" stroke="#3a0000" stroke-width="1.0"/>
<circle cx="554.25" cy="308.5" r="4.75" fill="#ff0000" stroke="#3a0000" stroke-width="1.0"/>
<circle cx="564" cy="313.75" r="4.75" fill="#ff0000" stroke="#3a0000" stroke-width="1.0"/>
<circle cx="553.12" cy="321" r="4.75" fill="#ff0000" stroke="#3a0000" stroke-width="1.0"/>
<circle cx="563.25" cy="322.75" r="4.75" fill="#ff0000" stroke="#3a0000" stroke-width="1.0"/>
<circle cx="651.75" cy="288.25" r="4.75" fill="#ff0000" stroke="#3a0000" stroke-width="1.0"/>
<circle cx="622.5" cy="313" r="4.75" fill="#ff0000" stroke="#3a0000" stroke-width="1.0"/>
<circle cx="600.7" cy="271.6" r="4.75" fill="#ff0000" stroke="#3a0000" stroke-width="1.0"/>
<circle cx="473" cy="208.1" r="4.75" fill="none" stroke="#ff0000" stroke-width="1.0"/>
<circle cx="503.6" cy="190" r="4.75" fill="none" stroke="#ff0000" stroke-width="1.0"/>
<circle cx="501.1" cy="197.5" r="4.75" fill="none" stroke="#ff0000" stroke-width="1.0"/>
<circle cx="513" cy="196.25" r="4.75" fill="none" stroke="#ff0000" stroke-width="1.0"/>
<circle cx="524.25" cy="195" r="4.75" fill="none" stroke="#ff0000" stroke-width="1.0"/>
<circle cx="526.75" cy="201.9" r="4.75" fill="none" stroke="#ff0000" stroke-width="1.0"/>
<circle cx="479.25" cy="226.25" r="4.75" fill="none" stroke="#ff0000" stroke-width="1.0"/>
<circle cx="475.5" cy="237.5" r="4.75" fill="none" stroke="#ff0000" stroke-width="1.0"/>
<circle cx="498" cy="222.5" r="4.75" fill="none" stroke="#ff0000" stroke-width="1.0"/>
<circle cx="503" cy="231.25" r="4.75" fill="none" stroke="#ff0000" stroke-width="1.0"/>
<circle cx="509.25" cy="222.5" r="4.75" fill="none" stroke="#ff0000" stroke-width="1.0"/>
<circle cx="518" cy="232.5" r="4.75" fill="none" stroke="#ff0000" stroke-width="1.0"/>
<circle cx="511.75" cy="236.25" r="4.75" fill="none" stroke="#ff0000" stroke-width="1.0"/>
<circle cx="519.25" cy="243.75" r="4.75" fill="none" stroke="#ff0000" stroke-width="1.0"/>
<circle cx="511.75" cy="248.75" r="4.75" fill="none" stroke="#ff0000" stroke-width="1.0"/>
<circle cx="501.18" cy="238.18" r="4.75" fill="none" stroke="#ff0000" stroke-width="1.0"/>
<circle cx="490.5" cy="222.5" r="4.75" fill="none" stroke="#ff0000" stroke-width="1.0"/>
<circle cx="523" cy="226.25" r="4.75" fill="none" stroke="#ff0000" stroke-width="1.0"/>
<circle cx="486.75" cy="277.5" r="4.75" fill="none" stroke="#ff0000" stroke-width="1.0"/>
<circle cx="498" cy="281.25" r="4.75" fill="none" stroke="#ff0000" stroke-width="1.0"/>
<circle cx="503" cy="273.75" r="4.75" fill="none" stroke="#ff0000" stroke-width="1.0"/>
<circle cx="508" cy="285" r="4.75" fill="none" stroke="#ff0000" stroke-width="1.0"/>
<circle cx="513" cy="277.5" r="4.75" fill="none" stroke="#ff0000" stroke-width="1.0"/>
<circle cx="496.75" cy="268.75" r="4.75" fill="none" stroke="#ff0000" stroke-width="1.0"/>
<circle cx="484.25" cy="301.25" r="4.75" fill="none" stroke="#ff0000" stroke-width="1.0"/>
<circle cx="474.25" cy="318.75" r="4.75" fill="none" stroke="#ff0000" stroke-width="1.0"/>
<circle cx="478.6" cy="328.75" r="4.75" fill="none" stroke="#ff0000" stroke-width="1.0"/>
<circle cx="492.88" cy="320.07" r="4.75" fill="none" stroke="#ff0000" stroke-width="1.0"/>
<circle cx="499.62" cy="308.05" r="4.75" fill="none" stroke="#ff0000" stroke-width="1.0"/>
<circle cx="505.88" cy="323.43" r="4.75" fill="none" stroke="#ff0000" stroke-width="1.0"/>
<circle cx="514.38" cy="321.05" r="4.75" fill="none" stroke="#ff0000" stroke-width="1.0"/>
<circle cx="533" cy="311.9" r="4.75" fill="none" stroke="#ff0000" stroke-width="1.0"/>
<circle cx="481.75" cy="266.25" r="4.75" fill="none" stroke="#ff0000" stroke-width="1.0"/>
<circle cx="509.25" cy="266.25" r="4.75" fill="none" stroke="#ff0000" stroke-width="1.0"/>
<circle cx="515.5" cy="262.5" r="4.75" fill="none" stroke="#ff0000" stroke-width="1.0"/>
<circle cx="474" cy="320.75" r="4.75" fill="none" stroke="#ff0000" stroke-width="1.0"/>
<circle cx="501.5" cy="216.6" r="4.75" fill="none" stroke="#ff0000" stroke-width="1.0"/>
<circle cx="503.25" cy="223.6" r="4.75" fill="none" stroke="#ff0000" stroke-width="1.0"/>
<circle cx="508.5" cy="229.75" r="4.75" fill="none" stroke="#ff0000" stroke-width="1.0"/>
<circle cx="505" cy="234.1" r="4.75" fill="none" stroke="#ff0000" stroke-width="1.0"/>
<circle cx="511.1" cy="226.25" r="4.75" fill="none" stroke="#ff0000" stroke-width="1.0"/>
<circle cx="516.4" cy="227.1" r="4.75" fill="none" stroke="#ff0000" stroke-width="1.0"/>
<circle cx="520.75" cy="241.1" r="4.75" fill="none" stroke="#ff0000" stroke-width="1.0"/>
<circle cx="515.5" cy="243.75" r="4.75" fill="none" stroke="#ff0000" stroke-width="1.0"/>
<circle cx="505" cy="243.75" r="4.75" fill="none" stroke="#ff0000" stroke-width="1.0"/>
<circle cx="489.25" cy="251.6" r="4.75" fill="none" stroke="#ff0000" stroke-width="1.0"/>
<circle cx="482.62" cy="253.7" r="4.75" fill="none" stroke="#ff0000" stroke-width="1.0"/>
<circle cx="522.5" cy="254.25" r="4.75" fill="none" stroke="#ff0000" stroke-width="1.0"/>
<circle cx="491" cy="219.25" r="4.75" fill="none" stroke="#ff0000" stroke-width="1.0"/>
<circle cx="496.25" cy="221" r="4.75" fill="none" stroke="#ff0000" stroke-width="1.0"/>
<circle cx="511.1" cy="210.5" r="4.75" fill="none" stroke="#ff0000" stroke-width="1.0"/>
<circle cx="527.75" cy="214" r="4.75" fill="none" stroke="#ff0000" stroke-width="1.0"/>
<circle cx="487" cy="280" r="4.75" fill="none" stroke="#ff0000" stroke-width="1.0"/>
<circle cx="507" cy="270" r="4.75" fill="none" stroke="#ff0000" stroke-width="1.0"/>
<circle cx="514" cy="280" r="4.75" fill="none" stroke="#ff0000" stroke-width="1.0"/>
<circle cx="503" cy="288" r="4.75" fill="none" stroke="#ff0000" stroke-width="1.0"/>
<circle cx="497" cy="291" r="4.75" fill="none" stroke="#ff0000" stroke-width="1.0"/>
<circle cx="510" cy="288" r="4.75" fill="none" stroke="#ff0000" stroke-width="1.0"/>
<circle cx="516" cy="271" r="4.75" fill="none" stroke="#ff0000" stroke-width="1.0"/>
<circle cx="522" cy="268" r="4.75" fill="none" stroke="#ff0000" stroke-width="1.0"/>
<circle cx="490" cy="266" r="4.75" fill="none" stroke="#ff0000" stroke-width="1.0"/>
<circle cx="493" cy="262" r="4.75" fill="none" stroke="#ff0000" stroke-width="1.0"/>
<circle cx="498" cy="262" r="4.75" fill="none" stroke="#ff0000" stroke-width="1.0"/>
<circle cx="500" cy="257" r="4.75" fill="none" stroke="#ff0000" stroke-width="1.0"/>
<circle cx="511" cy="264" r="4.75" fill="none" stroke="#ff0000" stroke-width="1.0"/>
<circle cx="506" cy="261" r="4.75" fill="none" stroke="#ff0000" stroke-width="1.0"/>
<circle cx="479" cy="261" r="4.75" fill="none" stroke="#ff0000" stroke-width="1.0"/>
<circle cx="491.1" cy="184.4" r="4.75" fill="none" stroke="#0000ff" stroke-width="1.0"/>
<circle cx="493" cy="186.9" r="4.75" fill="none" stroke="#0000ff" stroke-width="1.0"/>
<circle cx="506.1" cy="188.75" r="4.75" fill="none" stroke="#0000ff" stroke-width="1.0"/>
<circle cx="509.25" cy="195.6" r="4.75" fill="none" stroke="#0000ff" stroke-width="1.0"/>
<circle cx="494.9" cy="198.75" r="4.75" fill="none" stroke="#0000ff" stroke-width="1.0"/>
<circle cx="494.25" cy="209.4" r="4.75" fill="none" stroke="#0000ff" stroke-width="1.0"/>
<circle cx="467.4" cy="219.4" r="4.75" fill="none" stroke="#0000ff" stroke-width="1.0"/>
<circle cx="505.5" cy="207.5" r="4.75" fill="none" stroke="#0000ff" stroke-width="1.0"/>
<circle cx="515.5" cy="208.1" r="4.75" fill="none" stroke="#0000ff" stroke-width="1.0"/>
<circle cx="506.75" cy="213" r="4.75" fill="none" stroke="#0000ff" stroke-width="1.0"/>
<circle cx="513" cy="216.25" r="4.75" fill="none" stroke="#0000ff" stroke-width="1.0"/>
<circle cx="520.5" cy="216.25" r="4.75" fill="none" stroke="#0000ff" stroke-width="1.0"/>
<circle cx="525.5" cy="221.25" r="4.75" fill="none" stroke="#0000ff" stroke-width="1.0"/>
<circle cx="483.68" cy="227.75" r="4.75" fill="none" stroke="#0000ff" stroke-width="1.0"/>
<circle cx="490.1" cy="232.88" r="4.75" fill="none" stroke="#0000ff" stroke-width="1.0"/>
<circle cx="478" cy="241.25" r="4.75" fill="none" stroke="#0000ff" stroke-width="1.0"/>
<circle cx="495.5" cy="226.25" r="4.75" fill="none" stroke="#0000ff" stroke-width="1.0"/>
<circle cx="506.75" cy="227.5" r="4.75" fill="none" stroke="#0000ff" stroke-width="1.0"/>
<circle cx="513.38" cy="229.45" r="4.75" fill="none" stroke="#0000ff" stroke-width="1.0"/>
<circle cx="518" cy="225" r="4.75" fill="none" stroke="#0000ff" stroke-width="1.0"/>
<circle cx="523" cy="230" r="4.75" fill="none" stroke="#0000ff" stroke-width="1.0"/>
<circle cx="527.45" cy="233.5" r="4.75" fill="none" stroke="#0000ff" stroke-width="1.0"/>
<circle cx="497.55" cy="245.25" r="4.75" fill="none" stroke="#0000ff" stroke-width="1.0"/>
<circle cx="493.93" cy="247.8" r="4.75" fill="none" stroke="#0000ff" stroke-width="1.0"/>
<circle cx="508" cy="242.5" r="4.75" fill="none" stroke="#0000ff" stroke-width="1.0"/>
<circle cx="515.5" cy="238.18" r="4.75" fill="none" stroke="#0000ff" stroke-width="1.0"/>
<circle cx="521.75" cy="245" r="4.75" fill="none" stroke="#0000ff" stroke-width="1.0"/>
<circle cx="477.5" cy="253.26" r="4.75" fill="none" stroke="#0000ff" stroke-width="1.0"/>
<circle cx="488" cy="250" r="4.75" fill="none" stroke="#0000ff" stroke-width="1.0"/>
<circle cx="505.5" cy="250" r="4.75" fill="none" stroke="#0000ff" stroke-width="1.0"/>
<circle cx="466.1" cy="259.4" r="4.75" fill="none" stroke="#0000ff" stroke-width="1.0"/>
<circle cx="475.5" cy="267.5" r="4.75" fill="none" stroke="#0000ff" stroke-width="1.0"/>
<circle cx="478" cy="263.75" r="4.75" fill="none" stroke="#0000ff" stroke-width="1.0"/>
<circle cx="484.75" cy="256.75" r="4.75" fill="none" stroke="#0000ff" stroke-width="1.0"/>
<circle cx="491.75" cy="259.4" r="4.75" fill="none" stroke="#0000ff" stroke-width="1.0"/>
<circle cx="490.5" cy="266.25" r="4.75" fill="none" stroke="#0000ff" stroke-width="1.0"/>
<circle cx="503.75" cy="256.12" r="4.75" fill="none" stroke="#0000ff" stroke-width="1.0"/>
<circle cx="508" cy="258.75" r="4.75" fill="none" stroke="#0000ff" stroke-width="1.0"/>
<circle cx="488" cy="288.75" r="4.75" fill="none" stroke="#0000ff" stroke-width="1.0"/>
<circle cx="494.25" cy="296.25" r="4.75" fill="none" stroke="#0000ff" stroke-width="1.0"/>
<circle cx="526.75" cy="270.6" r="4.75" fill="none" stroke="#0000ff" stroke-width="1.0"/>
<circle cx="523" cy="266.25" r="4.75" fill="none" stroke="#0000ff" stroke-width="1.0"/>
<circle cx="534.25" cy="263.75" r="4.75" fill="none" stroke="#0000ff" stroke-width="1.0"/>
<circle cx="540.5" cy="271.25" r="4.75" fill="none" stroke="#0000ff" stroke-width="1.0"/>
<circle cx="548" cy="272.5" r="4.75" fill="none" stroke="#0000ff" stroke-width="1.0"/>
<circle cx="556.5" cy="323.5" r="4.75" fill="none" stroke="#0000ff" stroke-width="1.0"/>
<circle cx="456" cy="349.25" r="4.75" fill="none" stroke="#0000ff" stroke-width="1.0"/>
<circle cx="494.5" cy="200.9" r="4.75" fill="none" stroke="#0000ff" stroke-width="1.0"/>
<circle cx="487.5" cy="227.1" r="4.75" fill="none" stroke="#0000ff" stroke-width="1.0"/>
<circle cx="496.25" cy="230" r="4.75" fill="none" stroke="#0000ff" stroke-width="1.0"/>
<circle cx="510.25" cy="214" r="4.75" fill="none" stroke="#0000ff" stroke-width="1.0"/>
<circle cx="512" cy="221" r="4.75" fill="none" stroke="#0000ff" stroke-width="1.0"/>
<circle cx="517.25" cy="217.5" r="4.75" fill="none" stroke="#0000ff" stroke-width="1.0"/>
<circle cx="519" cy="222.75" r="4.75" fill="none" stroke="#0000ff" stroke-width="1.0"/>
<circle cx="522.5" cy="213.1" r="4.75" fill="none" stroke="#0000ff" stroke-width="1.0"/>
<circle cx="525.1" cy="219.25" r="4.75" fill="none" stroke="#0000ff" stroke-width="1.0"/>
<circle cx="524.25" cy="226.25" r="4.75" fill="none" stroke="#0000ff" stroke-width="1.0"/>
<circle cx="529.5" cy="221.9" r="4.75" fill="none" stroke="#0000ff" stroke-width="1.0"/>
<circle cx="519" cy="231.5" r="4.75" fill="none" stroke="#0000ff" stroke-width="1.0"/>
<circle cx="510.25" cy="233.25" r="4.75" fill="none" stroke="#0000ff" stroke-width="1.0"/>
<circle cx="506.75" cy="236.75" r="4.75" fill="none" stroke="#0000ff" stroke-width="1.0"/>
<circle cx="522.5" cy="236.75" r="4.75" fill="none" stroke="#0000ff" stroke-width="1.0"/>
<circle cx="478.75" cy="242.9" r="4.75" fill="none" stroke="#0000ff" stroke-width="1.0"/>
<circle cx="493.6" cy="243.75" r="4.75" fill="none" stroke="#0000ff" stroke-width="1.0"/>
<circle cx="508.5" cy="245.5" r="4.75" fill="none" stroke="#0000ff" stroke-width="1.0"/>
<circle cx="512" cy="249" r="4.75" fill="none" stroke="#0000ff" stroke-width="1.0"/>
<circle cx="519" cy="244.6" r="4.75" fill="none" stroke="#0000ff" stroke-width="1.0"/>
<circle cx="522.5" cy="249" r="4.75" fill="none" stroke="#0000ff" stroke-width="1.0"/>
<circle cx="484.9" cy="255.1" r="4.75" fill="none" stroke="#0000ff" stroke-width="1.0"/>
<circle cx="492.75" cy="256" r="4.75" fill="none" stroke="#0000ff" stroke-width="1.0"/>
<circle cx="507.6" cy="251.6" r="4.75" fill="none" stroke="#0000ff" stroke-width="1.0"/>
<circle cx="500.6" cy="249" r="4.75" fill="none" stroke="#0000ff" stroke-width="1.0"/>
<circle cx="528" cy="267" r="4.75" fill="none" stroke="#0000ff" stroke-width="1.0"/>
<circle cx="530" cy="273" r="4.75" fill="none" stroke="#0000ff" stroke-width="1.0"/>
<circle cx="494" cy="251" r="4.75" fill="none" stroke="#0000ff" stroke-width="1.0"/>
<circle cx="546.75" cy="213.1" r="4.75" fill="#0000ff" stroke="#000060" stroke-width="1.0"/>
<circle cx="539.25" cy="240" r="4.75" fill="#0000ff" stroke="#000060" stroke-width="1.0"/>
<circle cx="559.4" cy="253.75" r="4.75" fill="#0000ff" stroke="#000060" stroke-width="1.0"/>
<circle cx="559.5" cy="256.3" r="4.75" fill="#0000ff" stroke="#000060" stroke-width="1.0"/>
</g>
<clipPath id="cc"><rect x="114" y="557.8" width="251" height="249.2"/></clipPath>
<g clip-path="url(#cc)">
<line x1="114" y1="807" x2="365" y2="557.8" stroke="#1a1a1a" stroke-width="1.3"/>
<circle cx="195" cy="575.45" r="4.75" fill="#ff0000" stroke="#3a0000" stroke-width="1.0"/>
<circle cx="166.5" cy="604.25" r="4.75" fill="#ff0000" stroke="#3a0000" stroke-width="1.0"/>
<circle cx="232.5" cy="620.3" r="4.75" fill="#ff0000" stroke="#3a0000" stroke-width="1.0"/>
<circle cx="168" cy="641" r="4.75" fill="#ff0000" stroke="#3a0000" stroke-width="1.0"/>
<circle cx="155.25" cy="647.75" r="4.75" fill="#ff0000" stroke="#3a0000" stroke-width="1.0"/>
<circle cx="164.18" cy="655.42" r="4.75" fill="#ff0000" stroke="#3a0000" stroke-width="1.0"/>
<circle cx="169.1" cy="669.1" r="4.75" fill="#ff0000" stroke="#3a0000" stroke-width="1.0"/>
<circle cx="177.6" cy="669.7" r="4.75" fill="#ff0000" stroke="#3a0000" stroke-width="1.0"/>
<circle cx="197.22" cy="669.85" r="4.75" fill="#ff0000" stroke="#3a0000" stroke-width="1.0"/>
<circle cx="165.2" cy="678.7" r="4.75" fill="#ff0000" stroke="#3a0000" stroke-width="1.0"/>
<circle cx="182.6" cy="677.6" r="4.75" fill="#ff0000" stroke="#3a0000" stroke-width="1.0"/>
<circle cx="148.9" cy="688.25" r="4.75" fill="#ff0000" stroke="#3a0000" stroke-width="1.0"/>
<circle cx="156.2" cy="686.6" r="4.75" fill="#ff0000" stroke="#3a0000" stroke-width="1.0"/>
<circle cx="145.5" cy="693.3" r="4.75" fill="#ff0000" stroke="#3a0000" stroke-width="1.0"/>
<circle cx="159" cy="692.75" r="4.75" fill="#ff0000" stroke="#3a0000" stroke-width="1.0"/>
<circle cx="161.8" cy="696.7" r="4.75" fill="#ff0000" stroke="#3a0000" stroke-width="1.0"/>
<circle cx="165.2" cy="701.75" r="4.75" fill="#ff0000" stroke="#3a0000" stroke-width="1.0"/>
<circle cx="180.4" cy="692.2" r="4.75" fill="#ff0000" stroke="#3a0000" stroke-width="1.0"/>
<circle cx="196.7" cy="697.95" r="4.75" fill="#ff0000" stroke="#3a0000" stroke-width="1.0"/>
<circle cx="138.2" cy="699.5" r="4.75" fill="#ff0000" stroke="#3a0000" stroke-width="1.0"/>
<circle cx="144.4" cy="702.9" r="4.75" fill="#ff0000" stroke="#3a0000" stroke-width="1.0"/>
<circle cx="160.1" cy="705.1" r="4.75" fill="#ff0000" stroke="#3a0000" stroke-width="1.0"/>
<circle cx="182.1" cy="707.9" r="4.75" fill="#ff0000" stroke="#3a0000" stroke-width="1.0"/>
<circle cx="191.75" cy="709.85" r="4.75" fill="#ff0000" stroke="#3a0000" stroke-width="1.0"/>
<circle cx="153.4" cy="711.3" r="4.75" fill="#ff0000" stroke="#3a0000" stroke-width="1.0"/>
<circle cx="170.25" cy="711.3" r="4.75" fill="#ff0000" stroke="#3a0000" stroke-width="1.0"/>
<circle cx="161.25" cy="719.75" r="4.75" fill="#ff0000" stroke="#3a0000" stroke-width="1.0"/>
<circle cx="174.75" cy="721.3" r="4.75" fill="#ff0000" stroke="#3a0000" stroke-width="1.0"/>
<circle cx="138.75" cy="720.3" r="4.75" fill="#ff0000" stroke="#3a0000" stroke-width="1.0"/>
<circle cx="168" cy="721.4" r="4.75" fill="#ff0000" stroke="#3a0000" stroke-width="1.0"/>
<circle cx="201.2" cy="718.6" r="4.75" fill="#ff0000" stroke="#3a0000" stroke-width="1.0"/>
<circle cx="154.5" cy="725.4" r="4.75" fill="#ff0000" stroke="#3a0000" stroke-width="1.0"/>
<circle cx="177" cy="727.6" r="4.75" fill="#ff0000" stroke="#3a0000" stroke-width="1.0"/>
<circle cx="156.75" cy="730.7" r="4.75" fill="#ff0000" stroke="#3a0000" stroke-width="1.0"/>
<circle cx="163.5" cy="734.6" r="4.75" fill="#ff0000" stroke="#3a0000" stroke-width="1.0"/>
<circle cx="175.9" cy="730.7" r="4.75" fill="#ff0000" stroke="#3a0000" stroke-width="1.0"/>
<circle cx="175.3" cy="738.6" r="4.75" fill="#ff0000" stroke="#3a0000" stroke-width="1.0"/>
<circle cx="170.25" cy="723.4" r="4.75" fill="#ff0000" stroke="#3a0000" stroke-width="1.0"/>
<circle cx="200.6" cy="723.4" r="4.75" fill="#ff0000" stroke="#3a0000" stroke-width="1.0"/>
<circle cx="194.1" cy="744.3" r="4.75" fill="#ff0000" stroke="#3a0000" stroke-width="1.0"/>
<circle cx="178.7" cy="748.7" r="4.75" fill="#ff0000" stroke="#3a0000" stroke-width="1.0"/>
<circle cx="169.1" cy="745.9" r="4.75" fill="#ff0000" stroke="#3a0000" stroke-width="1.0"/>
<circle cx="161.25" cy="747" r="4.75" fill="#ff0000" stroke="#3a0000" stroke-width="1.0"/>
<circle cx="154.5" cy="740.8" r="4.75" fill="#ff0000" stroke="#3a0000" stroke-width="1.0"/>
<circle cx="147.75" cy="744.2" r="4.75" fill="#ff0000" stroke="#3a0000" stroke-width="1.0"/>
<circle cx="146.6" cy="735.75" r="4.75" fill="#ff0000" stroke="#3a0000" stroke-width="1.0"/>
<circle cx="141" cy="729.6" r="4.75" fill="#ff0000" stroke="#3a0000" stroke-width="1.0"/>
<circle cx="127.5" cy="752" r="4.75" fill="#ff0000" stroke="#3a0000" stroke-width="1.0"/>
<circle cx="138.75" cy="750.4" r="4.75" fill="#ff0000" stroke="#3a0000" stroke-width="1.0"/>
<circle cx="160.1" cy="753.75" r="4.75" fill="#ff0000" stroke="#3a0000" stroke-width="1.0"/>
<circle cx="166.9" cy="757.7" r="4.75" fill="#ff0000" stroke="#3a0000" stroke-width="1.0"/>
<circle cx="181.5" cy="761.1" r="4.75" fill="#ff0000" stroke="#3a0000" stroke-width="1.0"/>
<circle cx="176.4" cy="764.4" r="4.75" fill="#ff0000" stroke="#3a0000" stroke-width="1.0"/>
<circle cx="170.25" cy="763.3" r="4.75" fill="#ff0000" stroke="#3a0000" stroke-width="1.0"/>
<circle cx="161.25" cy="768.4" r="4.75" fill="#ff0000" stroke="#3a0000" stroke-width="1.0"/>
<circle cx="162.2" cy="772.15" r="4.75" fill="#ff0000" stroke="#3a0000" stroke-width="1.0"/>
<circle cx="172.5" cy="771.2" r="4.75" fill="#ff0000" stroke="#3a0000" stroke-width="1.0"/>
<circle cx="173.05" cy="774.67" r="4.75" fill="#ff0000" stroke="#3a0000" stroke-width="1.0"/>
<circle cx="151.1" cy="764.4" r="4.75" fill="#ff0000" stroke="#3a0000" stroke-width="1.0"/>
<circle cx="142.1" cy="760" r="4.75" fill="#ff0000" stroke="#3a0000" stroke-width="1.0"/>
<circle cx="149.4" cy="780.2" r="4.75" fill="#ff0000" stroke="#3a0000" stroke-width="1.0"/>
<circle cx="139.9" cy="782.4" r="4.75" fill="#ff0000" stroke="#3a0000" stroke-width="1.0"/>
<circle cx="130.9" cy="783" r="4.75" fill="#ff0000" stroke="#3a0000" stroke-width="1.0"/>
<circle cx="136.5" cy="776.25" r="4.75" fill="#ff0000" stroke="#3a0000" stroke-width="1.0"/>
<circle cx="134.25" cy="767.25" r="4.75" fill="#ff0000" stroke="#3a0000" stroke-width="1.0"/>
<circle cx="144.4" cy="769.5" r="4.75" fill="#ff0000" stroke="#3a0000" stroke-width="1.0"/>
<circle cx="139.9" cy="771.2" r="4.75" fill="#ff0000" stroke="#3a0000" stroke-width="1.0"/>
<circle cx="155.6" cy="753.75" r="4.75" fill="#ff0000" stroke="#3a0000" stroke-width="1.0"/>
<circle cx="242.35" cy="652" r="4.75" fill="#ff0000" stroke="#3a0000" stroke-width="1.0"/>
<circle cx="208.7" cy="663.75" r="4.75" fill="#ff0000" stroke="#3a0000" stroke-width="1.0"/>
<circle cx="237.1" cy="670.5" r="4.75" fill="#ff0000" stroke="#3a0000" stroke-width="1.0"/>
<circle cx="206.8" cy="705.8" r="4.75" fill="#ff0000" stroke="#3a0000" stroke-width="1.0"/>
<circle cx="203.2" cy="718" r="4.75" fill="#ff0000" stroke="#3a0000" stroke-width="1.0"/>
<circle cx="212.1" cy="727.4" r="4.75" fill="#ff0000" stroke="#3a0000" stroke-width="1.0"/>
<circle cx="239.2" cy="710.6" r="4.75" fill="#ff0000" stroke="#3a0000" stroke-width="1.0"/>
<circle cx="220" cy="745.4" r="4.75" fill="#ff0000" stroke="#3a0000" stroke-width="1.0"/>
<circle cx="157.5" cy="727.5" r="4.75" fill="#ff0000" stroke="#3a0000" stroke-width="1.0"/>
<circle cx="165" cy="729" r="4.75" fill="#ff0000" stroke="#3a0000" stroke-width="1.0"/>
<circle cx="171" cy="729.75" r="4.75" fill="#ff0000" stroke="#3a0000" stroke-width="1.0"/>
<circle cx="156" cy="735" r="4.75" fill="#ff0000" stroke="#3a0000" stroke-width="1.0"/>
<circle cx="145.5" cy="739.5" r="4.75" fill="#ff0000" stroke="#3a0000" stroke-width="1.0"/>
<circle cx="160.5" cy="742.5" r="4.75" fill="#ff0000" stroke="#3a0000" stroke-width="1.0"/>
<circle cx="168" cy="744" r="4.75" fill="#ff0000" stroke="#3a0000" stroke-width="1.0"/>
<circle cx="156" cy="747.75" r="4.75" fill="#ff0000" stroke="#3a0000" stroke-width="1.0"/>
<circle cx="171.75" cy="747" r="4.75" fill="#ff0000" stroke="#3a0000" stroke-width="1.0"/>
<circle cx="136.5" cy="760" r="4.75" fill="#ff0000" stroke="#3a0000" stroke-width="1.0"/>
<circle cx="133.5" cy="765.25" r="4.75" fill="#ff0000" stroke="#3a0000" stroke-width="1.0"/>
<circle cx="135" cy="771.25" r="4.75" fill="#ff0000" stroke="#3a0000" stroke-width="1.0"/>
<circle cx="132.75" cy="778.75" r="4.75" fill="#ff0000" stroke="#3a0000" stroke-width="1.0"/>
<circle cx="146.25" cy="766.75" r="4.75" fill="#ff0000" stroke="#3a0000" stroke-width="1.0"/>
<circle cx="156" cy="767.5" r="4.75" fill="#ff0000" stroke="#3a0000" stroke-width="1.0"/>
<circle cx="153" cy="757" r="4.75" fill="#ff0000" stroke="#3a0000" stroke-width="1.0"/>
<circle cx="159" cy="747.25" r="4.75" fill="#ff0000" stroke="#3a0000" stroke-width="1.0"/>
<circle cx="178.1" cy="663" r="4.75" fill="none" stroke="#ff0000" stroke-width="1.0"/>
<circle cx="146" cy="677" r="4.75" fill="none" stroke="#ff0000" stroke-width="1.0"/>
<circle cx="134.25" cy="698.4" r="4.75" fill="none" stroke="#ff0000" stroke-width="1.0"/>
<circle cx="150.6" cy="790.3" r="4.75" fill="none" stroke="#ff0000" stroke-width="1.0"/>
<circle cx="150" cy="586.25" r="4.75" fill="none" stroke="#0000ff" stroke-width="1.0"/>
<circle cx="145.2" cy="590.75" r="4.75" fill="none" stroke="#0000ff" stroke-width="1.0"/>
<circle cx="140.25" cy="627.8" r="4.75" fill="none" stroke="#0000ff" stroke-width="1.0"/>
<circle cx="147.75" cy="626" r="4.75" fill="none" stroke="#0000ff" stroke-width="1.0"/>
<circle cx="157.8" cy="632.75" r="4.75" fill="none" stroke="#0000ff" stroke-width="1.0"/>
<circle cx="135" cy="641" r="4.75" fill="none" stroke="#0000ff" stroke-width="1.0"/>
<circle cx="137.25" cy="643.25" r="4.75" fill="none" stroke="#0000ff" stroke-width="1.0"/>
<circle cx="142.5" cy="650" r="4.75" fill="none" stroke="#0000ff" stroke-width="1.0"/>
<circle cx="136.5" cy="655.25" r="4.75" fill="none" stroke="#0000ff" stroke-width="1.0"/>
<circle cx="133.7" cy="664.1" r="4.75" fill="none" stroke="#0000ff" stroke-width="1.0"/>
<circle cx="151.7" cy="665.75" r="4.75" fill="none" stroke="#0000ff" stroke-width="1.0"/>
<circle cx="137.1" cy="673.1" r="4.75" fill="none" stroke="#0000ff" stroke-width="1.0"/>
<circle cx="132.6" cy="678.7" r="4.75" fill="none" stroke="#0000ff" stroke-width="1.0"/>
<circle cx="134.8" cy="683.75" r="4.75" fill="none" stroke="#0000ff" stroke-width="1.0"/>
<circle cx="130.9" cy="688.25" r="4.75" fill="none" stroke="#0000ff" stroke-width="1.0"/>
<circle cx="138.75" cy="687.1" r="4.75" fill="none" stroke="#0000ff" stroke-width="1.0"/>
<circle cx="133.1" cy="692.75" r="4.75" fill="none" stroke="#0000ff" stroke-width="1.0"/>
<circle cx="128.1" cy="704" r="4.75" fill="none" stroke="#0000ff" stroke-width="1.0"/>
<circle cx="124.7" cy="713" r="4.75" fill="none" stroke="#0000ff" stroke-width="1.0"/>
<circle cx="132.6" cy="710.75" r="4.75" fill="none" stroke="#0000ff" stroke-width="1.0"/>
<circle cx="137.1" cy="713" r="4.75" fill="none" stroke="#0000ff" stroke-width="1.0"/>
<circle cx="143.25" cy="710.75" r="4.75" fill="none" stroke="#0000ff" stroke-width="1.0"/>
<circle cx="159" cy="701.75" r="4.75" fill="none" stroke="#0000ff" stroke-width="1.0"/>
<circle cx="128.9" cy="724.38" r="4.75" fill="none" stroke="#0000ff" stroke-width="1.0"/>
<circle cx="125.25" cy="733" r="4.75" fill="none" stroke="#0000ff" stroke-width="1.0"/>
<circle cx="123.92" cy="738.55" r="4.75" fill="none" stroke="#0000ff" stroke-width="1.0"/>
<circle cx="130.9" cy="731.25" r="4.75" fill="none" stroke="#0000ff" stroke-width="1.0"/>
<circle cx="128.8" cy="739.23" r="4.75" fill="none" stroke="#0000ff" stroke-width="1.0"/>
<circle cx="134.25" cy="740.25" r="4.75" fill="none" stroke="#0000ff" stroke-width="1.0"/>
<circle cx="137.25" cy="736.12" r="4.75" fill="none" stroke="#0000ff" stroke-width="1.0"/>
<circle cx="132" cy="745.3" r="4.75" fill="none" stroke="#0000ff" stroke-width="1.0"/>
<circle cx="148.9" cy="751.5" r="4.75" fill="none" stroke="#0000ff" stroke-width="1.0"/>
<circle cx="152.8" cy="748.7" r="4.75" fill="none" stroke="#0000ff" stroke-width="1.0"/>
<circle cx="123.6" cy="762.75" r="4.75" fill="none" stroke="#0000ff" stroke-width="1.0"/>
<circle cx="126.4" cy="767.25" r="4.75" fill="none" stroke="#0000ff" stroke-width="1.0"/>
<circle cx="123" cy="770.6" r="4.75" fill="none" stroke="#0000ff" stroke-width="1.0"/>
<circle cx="125.25" cy="775.1" r="4.75" fill="none" stroke="#0000ff" stroke-width="1.0"/>
<circle cx="120.75" cy="781.3" r="4.75" fill="none" stroke="#0000ff" stroke-width="1.0"/>
<circle cx="126.4" cy="784.7" r="4.75" fill="none" stroke="#0000ff" stroke-width="1.0"/>
<circle cx="128.6" cy="780.2" r="4.75" fill="none" stroke="#0000ff" stroke-width="1.0"/>
<circle cx="130.9" cy="763.9" r="4.75" fill="none" stroke="#0000ff" stroke-width="1.0"/>
<circle cx="144.4" cy="772.3" r="4.75" fill="none" stroke="#0000ff" stroke-width="1.0"/>
<circle cx="138.75" cy="711" r="4.75" fill="none" stroke="#0000ff" stroke-width="1.0"/>
<circle cx="146.25" cy="711.75" r="4.75" fill="none" stroke="#0000ff" stroke-width="1.0"/>
<circle cx="132.75" cy="727.5" r="4.75" fill="none" stroke="#0000ff" stroke-width="1.0"/>
<circle cx="129" cy="733.5" r="4.75" fill="none" stroke="#0000ff" stroke-width="1.0"/>
<circle cx="135" cy="732.75" r="4.75" fill="none" stroke="#0000ff" stroke-width="1.0"/>
<circle cx="138.75" cy="729" r="4.75" fill="none" stroke="#0000ff" stroke-width="1.0"/>
<circle cx="133.5" cy="738" r="4.75" fill="none" stroke="#0000ff" stroke-width="1.0"/>
<circle cx="132" cy="742.5" r="4.75" fill="none" stroke="#0000ff" stroke-width="1.0"/>
<circle cx="136.5" cy="741.75" r="4.75" fill="none" stroke="#0000ff" stroke-width="1.0"/>
<circle cx="141" cy="735" r="4.75" fill="none" stroke="#0000ff" stroke-width="1.0"/>
<circle cx="144" cy="732" r="4.75" fill="none" stroke="#0000ff" stroke-width="1.0"/>
<circle cx="138.75" cy="721.5" r="4.75" fill="none" stroke="#0000ff" stroke-width="1.0"/>
<circle cx="131.25" cy="691.5" r="4.75" fill="none" stroke="#0000ff" stroke-width="1.0"/>
<circle cx="136.5" cy="691.5" r="4.75" fill="none" stroke="#0000ff" stroke-width="1.0"/>
<circle cx="132.75" cy="694.5" r="4.75" fill="none" stroke="#0000ff" stroke-width="1.0"/>
<circle cx="127.5" cy="763" r="4.75" fill="none" stroke="#0000ff" stroke-width="1.0"/>
<circle cx="126" cy="769" r="4.75" fill="none" stroke="#0000ff" stroke-width="1.0"/>
<circle cx="127.5" cy="775" r="4.75" fill="none" stroke="#0000ff" stroke-width="1.0"/>
<circle cx="125.25" cy="779.5" r="4.75" fill="none" stroke="#0000ff" stroke-width="1.0"/>
<circle cx="132" cy="769" r="4.75" fill="none" stroke="#0000ff" stroke-width="1.0"/>
<circle cx="131.25" cy="775" r="4.75" fill="none" stroke="#0000ff" stroke-width="1.0"/>
<circle cx="129" cy="745.75" r="4.75" fill="none" stroke="#0000ff" stroke-width="1.0"/>
<circle cx="135" cy="746.5" r="4.75" fill="none" stroke="#0000ff" stroke-width="1.0"/>
<circle cx="132.75" cy="751" r="4.75" fill="none" stroke="#0000ff" stroke-width="1.0"/>
<circle cx="136.5" cy="755.5" r="4.75" fill="none" stroke="#0000ff" stroke-width="1.0"/>
<circle cx="138.75" cy="763" r="4.75" fill="none" stroke="#0000ff" stroke-width="1.0"/>
<circle cx="138.75" cy="770.5" r="4.75" fill="none" stroke="#0000ff" stroke-width="1.0"/>
<circle cx="124.63" cy="765.8" r="4.75" fill="none" stroke="#0000ff" stroke-width="1.0"/>
<circle cx="134.97" cy="749.37" r="4.75" fill="none" stroke="#0000ff" stroke-width="1.0"/>
<circle cx="125.75" cy="773.83" r="4.75" fill="none" stroke="#0000ff" stroke-width="1.0"/>
<circle cx="138.77" cy="751.97" r="4.75" fill="none" stroke="#0000ff" stroke-width="1.0"/>
<circle cx="132.11" cy="730.41" r="4.75" fill="none" stroke="#0000ff" stroke-width="1.0"/>
<circle cx="121.07" cy="740.94" r="4.75" fill="none" stroke="#0000ff" stroke-width="1.0"/>
<circle cx="133.88" cy="717.4" r="4.75" fill="none" stroke="#0000ff" stroke-width="1.0"/>
<circle cx="138.46" cy="730.12" r="4.75" fill="none" stroke="#0000ff" stroke-width="1.0"/>
<circle cx="126.12" cy="715.3" r="4.75" fill="none" stroke="#0000ff" stroke-width="1.0"/>
<circle cx="142.95" cy="769.62" r="4.75" fill="none" stroke="#0000ff" stroke-width="1.0"/>
<circle cx="140.25" cy="760.04" r="4.75" fill="none" stroke="#0000ff" stroke-width="1.0"/>
<circle cx="121.75" cy="737.66" r="4.75" fill="none" stroke="#0000ff" stroke-width="1.0"/>
<circle cx="131.95" cy="721.03" r="4.75" fill="none" stroke="#0000ff" stroke-width="1.0"/>
<circle cx="141.94" cy="740.74" r="4.75" fill="none" stroke="#0000ff" stroke-width="1.0"/>
<circle cx="124.41" cy="775.77" r="4.75" fill="none" stroke="#0000ff" stroke-width="1.0"/>
<circle cx="123.75" cy="784.38" r="4.75" fill="none" stroke="#0000ff" stroke-width="1.0"/>
<circle cx="130.97" cy="755.06" r="4.75" fill="none" stroke="#0000ff" stroke-width="1.0"/>
<circle cx="128.54" cy="749.81" r="4.75" fill="none" stroke="#0000ff" stroke-width="1.0"/>
<circle cx="125.11" cy="714.9" r="4.75" fill="none" stroke="#0000ff" stroke-width="1.0"/>
<circle cx="140.05" cy="730.32" r="4.75" fill="none" stroke="#0000ff" stroke-width="1.0"/>
<circle cx="138.17" cy="728.27" r="4.75" fill="none" stroke="#0000ff" stroke-width="1.0"/>
<circle cx="137.61" cy="771.5" r="4.75" fill="none" stroke="#0000ff" stroke-width="1.0"/>
<circle cx="149" cy="720.42" r="4.75" fill="#0000ff" stroke="#000060" stroke-width="1.0"/>
</g>
<clipPath id="cd"><rect x="455.6" y="557.8" width="250.9" height="249.2"/></clipPath>
<g clip-path="url(#cd)">
<line x1="455.6" y1="807" x2="706.5" y2="557.8" stroke="#1a1a1a" stroke-width="1.3"/>
<circle cx="503.4" cy="576.9" r="4.75" fill="#ff0000" stroke="#3a0000" stroke-width="1.0"/>
<circle cx="521.9" cy="593.75" r="4.75" fill="#ff0000" stroke="#3a0000" stroke-width="1.0"/>
<circle cx="501.1" cy="609.5" r="4.75" fill="#ff0000" stroke="#3a0000" stroke-width="1.0"/>
<circle cx="501.1" cy="623" r="4.75" fill="#ff0000" stroke="#3a0000" stroke-width="1.0"/>
<circle cx="490.8" cy="630.9" r="4.75" fill="#ff0000" stroke="#3a0000" stroke-width="1.0"/>
<circle cx="520" cy="632.6" r="4.75" fill="#ff0000" stroke="#3a0000" stroke-width="1.0"/>
<circle cx="488.75" cy="638.75" r="4.75" fill="#ff0000" stroke="#3a0000" stroke-width="1.0"/>
<circle cx="494.4" cy="643.25" r="4.75" fill="#ff0000" stroke="#3a0000" stroke-width="1.0"/>
<circle cx="485.4" cy="645.5" r="4.75" fill="#ff0000" stroke="#3a0000" stroke-width="1.0"/>
<circle cx="545" cy="638.75" r="4.75" fill="#ff0000" stroke="#3a0000" stroke-width="1.0"/>
<circle cx="515.75" cy="648.3" r="4.75" fill="#ff0000" stroke="#3a0000" stroke-width="1.0"/>
<circle cx="625.6" cy="584.3" r="4.75" fill="#ff0000" stroke="#3a0000" stroke-width="1.0"/>
<circle cx="544" cy="674.75" r="4.75" fill="#ff0000" stroke="#3a0000" stroke-width="1.0"/>
<circle cx="546.9" cy="684.2" r="4.75" fill="#ff0000" stroke="#3a0000" stroke-width="1.0"/>
<circle cx="545.75" cy="697.25" r="4.75" fill="#ff0000" stroke="#3a0000" stroke-width="1.0"/>
<circle cx="530.75" cy="696.45" r="4.75" fill="#ff0000" stroke="#3a0000" stroke-width="1.0"/>
<circle cx="515.2" cy="658.6" r="4.75" fill="#ff0000" stroke="#3a0000" stroke-width="1.0"/>
<circle cx="505.1" cy="654.1" r="4.75" fill="#ff0000" stroke="#3a0000" stroke-width="1.0"/>
<circle cx="493.8" cy="654.6" r="4.75" fill="#ff0000" stroke="#3a0000" stroke-width="1.0"/>
<circle cx="496.6" cy="648.4" r="4.75" fill="#ff0000" stroke="#3a0000" stroke-width="1.0"/>
<circle cx="487.6" cy="644.5" r="4.75" fill="#ff0000" stroke="#3a0000" stroke-width="1.0"/>
<circle cx="481.4" cy="654.1" r="4.75" fill="#ff0000" stroke="#3a0000" stroke-width="1.0"/>
<circle cx="488.75" cy="659.7" r="4.75" fill="#ff0000" stroke="#3a0000" stroke-width="1.0"/>
<circle cx="478.1" cy="663.6" r="4.75" fill="#ff0000" stroke="#3a0000" stroke-width="1.0"/>
<circle cx="469.6" cy="668.7" r="4.75" fill="#ff0000" stroke="#3a0000" stroke-width="1.0"/>
<circle cx="485.4" cy="672.6" r="4.75" fill="#ff0000" stroke="#3a0000" stroke-width="1.0"/>
<circle cx="510.1" cy="672.6" r="4.75" fill="#ff0000" stroke="#3a0000" stroke-width="1.0"/>
<circle cx="524.75" cy="672.1" r="4.75" fill="#ff0000" stroke="#3a0000" stroke-width="1.0"/>
<circle cx="526.4" cy="677.7" r="4.75" fill="#ff0000" stroke="#3a0000" stroke-width="1.0"/>
<circle cx="542.2" cy="674.3" r="4.75" fill="#ff0000" stroke="#3a0000" stroke-width="1.0"/>
<circle cx="498.9" cy="678.8" r="4.75" fill="#ff0000" stroke="#3a0000" stroke-width="1.0"/>
<circle cx="502.25" cy="683.3" r="4.75" fill="#ff0000" stroke="#3a0000" stroke-width="1.0"/>
<circle cx="486.5" cy="681.6" r="4.75" fill="#ff0000" stroke="#3a0000" stroke-width="1.0"/>
<circle cx="543.9" cy="685" r="4.75" fill="#ff0000" stroke="#3a0000" stroke-width="1.0"/>
<circle cx="517.4" cy="688.9" r="4.75" fill="#ff0000" stroke="#3a0000" stroke-width="1.0"/>
<circle cx="509" cy="689.5" r="4.75" fill="#ff0000" stroke="#3a0000" stroke-width="1.0"/>
<circle cx="503.4" cy="692.9" r="4.75" fill="#ff0000" stroke="#3a0000" stroke-width="1.0"/>
<circle cx="496.6" cy="692.9" r="4.75" fill="#ff0000" stroke="#3a0000" stroke-width="1.0"/>
<circle cx="513.5" cy="695.7" r="4.75" fill="#ff0000" stroke="#3a0000" stroke-width="1.0"/>
<circle cx="543.3" cy="698.5" r="4.75" fill="#ff0000" stroke="#3a0000" stroke-width="1.0"/>
<circle cx="522.5" cy="701.3" r="4.75" fill="#ff0000" stroke="#3a0000" stroke-width="1.0"/>
<circle cx="521.9" cy="707.5" r="4.75" fill="#ff0000" stroke="#3a0000" stroke-width="1.0"/>
<circle cx="511.25" cy="707.5" r="4.75" fill="#ff0000" stroke="#3a0000" stroke-width="1.0"/>
<circle cx="500" cy="703" r="4.75" fill="#ff0000" stroke="#3a0000" stroke-width="1.0"/>
<circle cx="493.25" cy="698.5" r="4.75" fill="#ff0000" stroke="#3a0000" stroke-width="1.0"/>
<circle cx="483.1" cy="698.5" r="4.75" fill="#ff0000" stroke="#3a0000" stroke-width="1.0"/>
<circle cx="484.25" cy="691.75" r="4.75" fill="#ff0000" stroke="#3a0000" stroke-width="1.0"/>
<circle cx="488.75" cy="705.25" r="4.75" fill="#ff0000" stroke="#3a0000" stroke-width="1.0"/>
<circle cx="495.5" cy="709.75" r="4.75" fill="#ff0000" stroke="#3a0000" stroke-width="1.0"/>
<circle cx="533.75" cy="713.7" r="4.75" fill="#ff0000" stroke="#3a0000" stroke-width="1.0"/>
<circle cx="528.98" cy="723.33" r="4.75" fill="#ff0000" stroke="#3a0000" stroke-width="1.0"/>
<circle cx="518" cy="726.12" r="4.75" fill="#ff0000" stroke="#3a0000" stroke-width="1.0"/>
<circle cx="507.9" cy="721" r="4.75" fill="#ff0000" stroke="#3a0000" stroke-width="1.0"/>
<circle cx="502.25" cy="716.5" r="4.75" fill="#ff0000" stroke="#3a0000" stroke-width="1.0"/>
<circle cx="493.25" cy="717.6" r="4.75" fill="#ff0000" stroke="#3a0000" stroke-width="1.0"/>
<circle cx="484.25" cy="714.25" r="4.75" fill="#ff0000" stroke="#3a0000" stroke-width="1.0"/>
<circle cx="477.5" cy="712" r="4.75" fill="#ff0000" stroke="#3a0000" stroke-width="1.0"/>
<circle cx="477.5" cy="721" r="4.75" fill="#ff0000" stroke="#3a0000" stroke-width="1.0"/>
<circle cx="486.5" cy="723.25" r="4.75" fill="#ff0000" stroke="#3a0000" stroke-width="1.0"/>
<circle cx="497.75" cy="725.5" r="4.75" fill="#ff0000" stroke="#3a0000" stroke-width="1.0"/>
<circle cx="474.1" cy="703" r="4.75" fill="#ff0000" stroke="#3a0000" stroke-width="1.0"/>
<circle cx="480.9" cy="685" r="4.75" fill="#ff0000" stroke="#3a0000" stroke-width="1.0"/>
<circle cx="477.5" cy="673.75" r="4.75" fill="#ff0000" stroke="#3a0000" stroke-width="1.0"/>
<circle cx="522.5" cy="726.6" r="4.75" fill="#ff0000" stroke="#3a0000" stroke-width="1.0"/>
<circle cx="523.6" cy="729" r="4.75" fill="#ff0000" stroke="#3a0000" stroke-width="1.0"/>
<circle cx="511.25" cy="725.6" r="4.75" fill="#ff0000" stroke="#3a0000" stroke-width="1.0"/>
<circle cx="510.1" cy="739.7" r="4.75" fill="#ff0000" stroke="#3a0000" stroke-width="1.0"/>
<circle cx="518.6" cy="743.1" r="4.75" fill="#ff0000" stroke="#3a0000" stroke-width="1.0"/>
<circle cx="511.25" cy="751.5" r="4.75" fill="#ff0000" stroke="#3a0000" stroke-width="1.0"/>
<circle cx="519.7" cy="758.25" r="4.75" fill="#ff0000" stroke="#3a0000" stroke-width="1.0"/>
<circle cx="533.92" cy="764.7" r="4.75" fill="#ff0000" stroke="#3a0000" stroke-width="1.0"/>
<circle cx="506.75" cy="763.3" r="4.75" fill="#ff0000" stroke="#3a0000" stroke-width="1.0"/>
<circle cx="508.4" cy="769.5" r="4.75" fill="#ff0000" stroke="#3a0000" stroke-width="1.0"/>
<circle cx="498.9" cy="770" r="4.75" fill="#ff0000" stroke="#3a0000" stroke-width="1.0"/>
<circle cx="502.25" cy="758.25" r="4.75" fill="#ff0000" stroke="#3a0000" stroke-width="1.0"/>
<circle cx="494.4" cy="761.6" r="4.75" fill="#ff0000" stroke="#3a0000" stroke-width="1.0"/>
<circle cx="492.1" cy="766.1" r="4.75" fill="#ff0000" stroke="#3a0000" stroke-width="1.0"/>
<circle cx="491" cy="777.4" r="4.75" fill="#ff0000" stroke="#3a0000" stroke-width="1.0"/>
<circle cx="493.8" cy="781.9" r="4.75" fill="#ff0000" stroke="#3a0000" stroke-width="1.0"/>
<circle cx="485.4" cy="786.4" r="4.75" fill="#ff0000" stroke="#3a0000" stroke-width="1.0"/>
<circle cx="477.5" cy="780.75" r="4.75" fill="#ff0000" stroke="#3a0000" stroke-width="1.0"/>
<circle cx="504.5" cy="745.9" r="4.75" fill="#ff0000" stroke="#3a0000" stroke-width="1.0"/>
<circle cx="502.25" cy="732.4" r="4.75" fill="#ff0000" stroke="#3a0000" stroke-width="1.0"/>
<circle cx="493.25" cy="751.5" r="4.75" fill="#ff0000" stroke="#3a0000" stroke-width="1.0"/>
<circle cx="486.5" cy="757.1" r="4.75" fill="#ff0000" stroke="#3a0000" stroke-width="1.0"/>
<circle cx="483.1" cy="767.25" r="4.75" fill="#ff0000" stroke="#3a0000" stroke-width="1.0"/>
<circle cx="485.4" cy="774" r="4.75" fill="#ff0000" stroke="#3a0000" stroke-width="1.0"/>
<circle cx="477.5" cy="769.5" r="4.75" fill="#ff0000" stroke="#3a0000" stroke-width="1.0"/>
<circle cx="469.6" cy="785.25" r="4.75" fill="#ff0000" stroke="#3a0000" stroke-width="1.0"/>
<circle cx="480.9" cy="760.5" r="4.75" fill="#ff0000" stroke="#3a0000" stroke-width="1.0"/>
<circle cx="475.25" cy="753.75" r="4.75" fill="#ff0000" stroke="#3a0000" stroke-width="1.0"/>
<circle cx="479.75" cy="745.9" r="4.75" fill="#ff0000" stroke="#3a0000" stroke-width="1.0"/>
<circle cx="488.75" cy="742.5" r="4.75" fill="#ff0000" stroke="#3a0000" stroke-width="1.0"/>
<circle cx="497.75" cy="740.25" r="4.75" fill="#ff0000" stroke="#3a0000" stroke-width="1.0"/>
<circle cx="486.5" cy="733.5" r="4.75" fill="#ff0000" stroke="#3a0000" stroke-width="1.0"/>
<circle cx="495.5" cy="726.75" r="4.75" fill="#ff0000" stroke="#3a0000" stroke-width="1.0"/>
<circle cx="477.5" cy="731.25" r="4.75" fill="#ff0000" stroke="#3a0000" stroke-width="1.0"/>
<circle cx="473" cy="740.25" r="4.75" fill="#ff0000" stroke="#3a0000" stroke-width="1.0"/>
<circle cx="471.9" cy="762.75" r="4.75" fill="#ff0000" stroke="#3a0000" stroke-width="1.0"/>
<circle cx="468.5" cy="774" r="4.75" fill="#ff0000" stroke="#3a0000" stroke-width="1.0"/>
<circle cx="554.2" cy="730.2" r="4.75" fill="#ff0000" stroke="#3a0000" stroke-width="1.0"/>
<circle cx="559.75" cy="745.4" r="4.75" fill="#ff0000" stroke="#3a0000" stroke-width="1.0"/>
<circle cx="600.6" cy="752" r="4.75" fill="#ff0000" stroke="#3a0000" stroke-width="1.0"/>
<circle cx="488.71" cy="757.86" r="4.75" fill="#ff0000" stroke="#3a0000" stroke-width="1.0"/>
<circle cx="494.66" cy="712.55" r="4.75" fill="#ff0000" stroke="#3a0000" stroke-width="1.0"/>
<circle cx="474.34" cy="732.98" r="4.75" fill="#ff0000" stroke="#3a0000" stroke-width="1.0"/>
<circle cx="482.5" cy="771.31" r="4.75" fill="#ff0000" stroke="#3a0000" stroke-width="1.0"/>
<circle cx="495.41" cy="752.93" r="4.75" fill="#ff0000" stroke="#3a0000" stroke-width="1.0"/>
<circle cx="491.3" cy="758.2" r="4.75" fill="#ff0000" stroke="#3a0000" stroke-width="1.0"/>
<circle cx="478.5" cy="738.72" r="4.75" fill="#ff0000" stroke="#3a0000" stroke-width="1.0"/>
<circle cx="479.03" cy="779.73" r="4.75" fill="#ff0000" stroke="#3a0000" stroke-width="1.0"/>
<circle cx="475.82" cy="772.06" r="4.75" fill="#ff0000" stroke="#3a0000" stroke-width="1.0"/>
<circle cx="476.31" cy="760.45" r="4.75" fill="#ff0000" stroke="#3a0000" stroke-width="1.0"/>
<circle cx="484.45" cy="735.61" r="4.75" fill="#ff0000" stroke="#3a0000" stroke-width="1.0"/>
<circle cx="500.11" cy="701.64" r="4.75" fill="#ff0000" stroke="#3a0000" stroke-width="1.0"/>
<circle cx="475.88" cy="780.52" r="4.75" fill="#ff0000" stroke="#3a0000" stroke-width="1.0"/>
<circle cx="489.78" cy="708.01" r="4.75" fill="#ff0000" stroke="#3a0000" stroke-width="1.0"/>
<circle cx="477.49" cy="737.24" r="4.75" fill="#ff0000" stroke="#3a0000" stroke-width="1.0"/>
<circle cx="478.19" cy="727.5" r="4.75" fill="#ff0000" stroke="#3a0000" stroke-width="1.0"/>
<circle cx="493.27" cy="714.39" r="4.75" fill="#ff0000" stroke="#3a0000" stroke-width="1.0"/>
<circle cx="495.6" cy="704.52" r="4.75" fill="#ff0000" stroke="#3a0000" stroke-width="1.0"/>
<circle cx="479.31" cy="771.78" r="4.75" fill="#ff0000" stroke="#3a0000" stroke-width="1.0"/>
<circle cx="486.42" cy="736.86" r="4.75" fill="#ff0000" stroke="#3a0000" stroke-width="1.0"/>
<circle cx="492.48" cy="741.96" r="4.75" fill="#ff0000" stroke="#3a0000" stroke-width="1.0"/>
<circle cx="485.92" cy="702.68" r="4.75" fill="#ff0000" stroke="#3a0000" stroke-width="1.0"/>
<circle cx="504.27" cy="758.4" r="4.75" fill="#ff0000" stroke="#3a0000" stroke-width="1.0"/>
<circle cx="485.05" cy="731.96" r="4.75" fill="#ff0000" stroke="#3a0000" stroke-width="1.0"/>
<circle cx="495.39" cy="759.29" r="4.75" fill="#ff0000" stroke="#3a0000" stroke-width="1.0"/>
<circle cx="483.7" cy="561.1" r="4.75" fill="none" stroke="#ff0000" stroke-width="1.0"/>
<circle cx="488.75" cy="602.2" r="4.75" fill="none" stroke="#ff0000" stroke-width="1.0"/>
<circle cx="493.25" cy="612.3" r="4.75" fill="none" stroke="#ff0000" stroke-width="1.0"/>
<circle cx="508.4" cy="607.8" r="4.75" fill="none" stroke="#ff0000" stroke-width="1.0"/>
<circle cx="493.25" cy="622.4" r="4.75" fill="none" stroke="#ff0000" stroke-width="1.0"/>
<circle cx="483.1" cy="628.6" r="4.75" fill="none" stroke="#ff0000" stroke-width="1.0"/>
<circle cx="483.1" cy="636.5" r="4.75" fill="none" stroke="#ff0000" stroke-width="1.0"/>
<circle cx="569.4" cy="570.1" r="4.75" fill="none" stroke="#ff0000" stroke-width="1.0"/>
<circle cx="489.9" cy="667" r="4.75" fill="none" stroke="#ff0000" stroke-width="1.0"/>
<circle cx="471.9" cy="677.1" r="4.75" fill="none" stroke="#ff0000" stroke-width="1.0"/>
<circle cx="470.75" cy="707.5" r="4.75" fill="none" stroke="#ff0000" stroke-width="1.0"/>
<circle cx="510.1" cy="715.4" r="4.75" fill="none" stroke="#ff0000" stroke-width="1.0"/>
<circle cx="464.6" cy="751.5" r="4.75" fill="none" stroke="#ff0000" stroke-width="1.0"/>
<circle cx="464.6" cy="762.75" r="4.75" fill="none" stroke="#ff0000" stroke-width="1.0"/>
<circle cx="462.9" cy="776.25" r="4.75" fill="none" stroke="#ff0000" stroke-width="1.0"/>
<circle cx="467.4" cy="783" r="4.75" fill="none" stroke="#ff0000" stroke-width="1.0"/>
<circle cx="478.6" cy="785.25" r="4.75" fill="none" stroke="#ff0000" stroke-width="1.0"/>
<circle cx="465.63" cy="761.47" r="4.75" fill="none" stroke="#ff0000" stroke-width="1.0"/>
<circle cx="471.58" cy="777.39" r="4.75" fill="none" stroke="#ff0000" stroke-width="1.0"/>
<circle cx="464.6" cy="717.36" r="4.75" fill="none" stroke="#ff0000" stroke-width="1.0"/>
<circle cx="464.06" cy="716.84" r="4.75" fill="none" stroke="#ff0000" stroke-width="1.0"/>
<circle cx="472.28" cy="707.63" r="4.75" fill="none" stroke="#ff0000" stroke-width="1.0"/>
<circle cx="469.44" cy="715.75" r="4.75" fill="none" stroke="#ff0000" stroke-width="1.0"/>
<circle cx="466.13" cy="736.86" r="4.75" fill="none" stroke="#ff0000" stroke-width="1.0"/>
<circle cx="473.73" cy="754.02" r="4.75" fill="none" stroke="#ff0000" stroke-width="1.0"/>
<circle cx="462.2" cy="721.76" r="4.75" fill="none" stroke="#ff0000" stroke-width="1.0"/>
<circle cx="464.05" cy="779.51" r="4.75" fill="none" stroke="#ff0000" stroke-width="1.0"/>
<circle cx="496.1" cy="578" r="4.75" fill="none" stroke="#0000ff" stroke-width="1.0"/>
<circle cx="499.4" cy="575.75" r="4.75" fill="none" stroke="#0000ff" stroke-width="1.0"/>
<circle cx="478.1" cy="607.25" r="4.75" fill="none" stroke="#0000ff" stroke-width="1.0"/>
<circle cx="475.8" cy="621.3" r="4.75" fill="none" stroke="#0000ff" stroke-width="1.0"/>
<circle cx="473.6" cy="628" r="4.75" fill="none" stroke="#0000ff" stroke-width="1.0"/>
<circle cx="482" cy="626.4" r="4.75" fill="none" stroke="#0000ff" stroke-width="1.0"/>
<circle cx="469.6" cy="691.75" r="4.75" fill="none" stroke="#0000ff" stroke-width="1.0"/>
<circle cx="469.6" cy="700.75" r="4.75" fill="none" stroke="#0000ff" stroke-width="1.0"/>
<circle cx="467.4" cy="714.25" r="4.75" fill="none" stroke="#0000ff" stroke-width="1.0"/>
<circle cx="466.25" cy="723.05" r="4.75" fill="none" stroke="#0000ff" stroke-width="1.0"/>
<circle cx="477.5" cy="679.4" r="4.75" fill="none" stroke="#0000ff" stroke-width="1.0"/>
<circle cx="474.1" cy="686.1" r="4.75" fill="none" stroke="#0000ff" stroke-width="1.0"/>
<circle cx="483.1" cy="646.75" r="4.75" fill="none" stroke="#0000ff" stroke-width="1.0"/>
<circle cx="475.25" cy="671.5" r="4.75" fill="none" stroke="#0000ff" stroke-width="1.0"/>
<circle cx="482" cy="704.1" r="4.75" fill="none" stroke="#0000ff" stroke-width="1.0"/>
<circle cx="486.5" cy="712" r="4.75" fill="none" stroke="#0000ff" stroke-width="1.0"/>
<circle cx="473" cy="718.75" r="4.75" fill="none" stroke="#0000ff" stroke-width="1.0"/>
<circle cx="488.75" cy="680.5" r="4.75" fill="none" stroke="#0000ff" stroke-width="1.0"/>
<circle cx="466.25" cy="737.4" r="4.75" fill="none" stroke="#0000ff" stroke-width="1.0"/>
<circle cx="471.9" cy="731.25" r="4.75" fill="none" stroke="#0000ff" stroke-width="1.0"/>
<circle cx="474.1" cy="743.6" r="4.75" fill="none" stroke="#0000ff" stroke-width="1.0"/>
<circle cx="465.1" cy="752.6" r="4.75" fill="none" stroke="#0000ff" stroke-width="1.0"/>
<circle cx="469.6" cy="765" r="4.75" fill="none" stroke="#0000ff" stroke-width="1.0"/>
<circle cx="467.4" cy="776.25" r="4.75" fill="none" stroke="#0000ff" stroke-width="1.0"/>
<circle cx="465.1" cy="788.6" r="4.75" fill="none" stroke="#0000ff" stroke-width="1.0"/>
<circle cx="464" cy="797.6" r="4.75" fill="none" stroke="#0000ff" stroke-width="1.0"/>
<circle cx="479.75" cy="738" r="4.75" fill="none" stroke="#0000ff" stroke-width="1.0"/>
<circle cx="483.1" cy="727.9" r="4.75" fill="none" stroke="#0000ff" stroke-width="1.0"/>
<circle cx="491" cy="736.9" r="4.75" fill="none" stroke="#0000ff" stroke-width="1.0"/>
<circle cx="497.75" cy="747" r="4.75" fill="none" stroke="#0000ff" stroke-width="1.0"/>
<circle cx="477.5" cy="749.25" r="4.75" fill="none" stroke="#0000ff" stroke-width="1.0"/>
<circle cx="484.25" cy="753.75" r="4.75" fill="none" stroke="#0000ff" stroke-width="1.0"/>
<circle cx="473" cy="771.75" r="4.75" fill="none" stroke="#0000ff" stroke-width="1.0"/>
<circle cx="476.76" cy="747.1" r="4.75" fill="none" stroke="#0000ff" stroke-width="1.0"/>
<circle cx="489.03" cy="737.5" r="4.75" fill="none" stroke="#0000ff" stroke-width="1.0"/>
<circle cx="478.2" cy="749.91" r="4.75" fill="none" stroke="#0000ff" stroke-width="1.0"/>
<circle cx="469.8" cy="742.21" r="4.75" fill="none" stroke="#0000ff" stroke-width="1.0"/>
<circle cx="481.38" cy="770.88" r="4.75" fill="none" stroke="#0000ff" stroke-width="1.0"/>
<circle cx="467.45" cy="720.95" r="4.75" fill="none" stroke="#0000ff" stroke-width="1.0"/>
<circle cx="467.36" cy="772.58" r="4.75" fill="none" stroke="#0000ff" stroke-width="1.0"/>
<circle cx="483.03" cy="694.27" r="4.75" fill="none" stroke="#0000ff" stroke-width="1.0"/>
<circle cx="482" cy="752.79" r="4.75" fill="none" stroke="#0000ff" stroke-width="1.0"/>
<circle cx="469.09" cy="691.53" r="4.75" fill="none" stroke="#0000ff" stroke-width="1.0"/>
<circle cx="478.74" cy="696.07" r="4.75" fill="none" stroke="#0000ff" stroke-width="1.0"/>
<circle cx="469.95" cy="714.68" r="4.75" fill="none" stroke="#0000ff" stroke-width="1.0"/>
<circle cx="465.78" cy="737.32" r="4.75" fill="none" stroke="#0000ff" stroke-width="1.0"/>
<circle cx="476.45" cy="775.93" r="4.75" fill="none" stroke="#0000ff" stroke-width="1.0"/>
<circle cx="478.5" cy="755.31" r="4.75" fill="none" stroke="#0000ff" stroke-width="1.0"/>
<circle cx="477.99" cy="757.57" r="4.75" fill="none" stroke="#0000ff" stroke-width="1.0"/>
<circle cx="476.89" cy="718.37" r="4.75" fill="none" stroke="#0000ff" stroke-width="1.0"/>
<circle cx="486.85" cy="762.2" r="4.75" fill="none" stroke="#0000ff" stroke-width="1.0"/>
<circle cx="473.2" cy="713.43" r="4.75" fill="none" stroke="#0000ff" stroke-width="1.0"/>
<circle cx="472.52" cy="697.16" r="4.75" fill="none" stroke="#0000ff" stroke-width="1.0"/>
<circle cx="484.92" cy="730.84" r="4.75" fill="none" stroke="#0000ff" stroke-width="1.0"/>
<circle cx="487.01" cy="729.42" r="4.75" fill="none" stroke="#0000ff" stroke-width="1.0"/>
<circle cx="465.01" cy="711.39" r="4.75" fill="none" stroke="#0000ff" stroke-width="1.0"/>
<circle cx="488.67" cy="737.94" r="4.75" fill="none" stroke="#0000ff" stroke-width="1.0"/>
<circle cx="490.49" cy="730.54" r="4.75" fill="none" stroke="#0000ff" stroke-width="1.0"/>
<circle cx="466.9" cy="754.2" r="4.75" fill="none" stroke="#0000ff" stroke-width="1.0"/>
<circle cx="485.24" cy="717.52" r="4.75" fill="none" stroke="#0000ff" stroke-width="1.0"/>
<circle cx="467.27" cy="723.92" r="4.75" fill="none" stroke="#0000ff" stroke-width="1.0"/>
<circle cx="490.07" cy="767.32" r="4.75" fill="none" stroke="#0000ff" stroke-width="1.0"/>
<circle cx="468.07" cy="715.13" r="4.75" fill="none" stroke="#0000ff" stroke-width="1.0"/>
<circle cx="467.63" cy="696.11" r="4.75" fill="none" stroke="#0000ff" stroke-width="1.0"/>
<circle cx="485.72" cy="708.12" r="4.75" fill="none" stroke="#0000ff" stroke-width="1.0"/>
<circle cx="479.54" cy="735.64" r="4.75" fill="none" stroke="#0000ff" stroke-width="1.0"/>
<circle cx="469.96" cy="764.65" r="4.75" fill="none" stroke="#0000ff" stroke-width="1.0"/>
<circle cx="468.41" cy="755.66" r="4.75" fill="none" stroke="#0000ff" stroke-width="1.0"/>
<circle cx="468.03" cy="732.92" r="4.75" fill="none" stroke="#0000ff" stroke-width="1.0"/>
<circle cx="470.53" cy="717.52" r="4.75" fill="none" stroke="#0000ff" stroke-width="1.0"/>
<circle cx="472.91" cy="780.26" r="4.75" fill="none" stroke="#0000ff" stroke-width="1.0"/>
<circle cx="470.48" cy="730.22" r="4.75" fill="none" stroke="#0000ff" stroke-width="1.0"/>
<circle cx="487.21" cy="755.47" r="4.75" fill="none" stroke="#0000ff" stroke-width="1.0"/>
<circle cx="467.61" cy="790.91" r="4.75" fill="none" stroke="#0000ff" stroke-width="1.0"/>
<circle cx="470.54" cy="716.34" r="4.75" fill="none" stroke="#0000ff" stroke-width="1.0"/>
<circle cx="485.09" cy="723.55" r="4.75" fill="none" stroke="#0000ff" stroke-width="1.0"/>
<circle cx="472.7" cy="697.49" r="4.75" fill="none" stroke="#0000ff" stroke-width="1.0"/>
<circle cx="467.34" cy="749.44" r="4.75" fill="none" stroke="#0000ff" stroke-width="1.0"/>
<circle cx="487.85" cy="610" r="4.75" fill="#0000ff" stroke="#000060" stroke-width="1.0"/>
<circle cx="532.17" cy="665.83" r="4.75" fill="#0000ff" stroke="#000060" stroke-width="1.0"/>
<circle cx="500" cy="665.3" r="4.75" fill="#0000ff" stroke="#000060" stroke-width="1.0"/>
</g>
<line x1="117" y1="166.3" x2="366.3" y2="166.3" stroke="#a0a0a0" stroke-width="1"/>
<line x1="366.3" y1="166.3" x2="366.3" y2="414.3" stroke="#a0a0a0" stroke-width="1"/>
<path d="M117 165.8 V414.3 H366.3" fill="none" stroke="#111" stroke-width="1.6"/>
<line x1="112" y1="166.3" x2="117" y2="166.3" stroke="#111" stroke-width="1.3"/>
<text transform="translate(110 172.9) scale(1 1.14)" text-anchor="end" font-size="22" class="tl">1.0</text>
<line x1="112" y1="237.16" x2="117" y2="237.16" stroke="#111" stroke-width="1.3"/>
<text transform="translate(110 243.76) scale(1 1.14)" text-anchor="end" font-size="22" class="tl">0.8</text>
<line x1="112" y1="308.01" x2="117" y2="308.01" stroke="#111" stroke-width="1.3"/>
<text transform="translate(110 314.61) scale(1 1.14)" text-anchor="end" font-size="22" class="tl">0.6</text>
<line x1="112" y1="378.87" x2="117" y2="378.87" stroke="#111" stroke-width="1.3"/>
<text transform="translate(110 385.47) scale(1 1.14)" text-anchor="end" font-size="22" class="tl">0.4</text>
<line x1="152.61" y1="414.3" x2="152.61" y2="418.8" stroke="#111" stroke-width="1.3"/>
<text transform="translate(152.61 438) scale(1 1.14)" text-anchor="middle" font-size="22" class="tl">0.4</text>
<line x1="223.84" y1="414.3" x2="223.84" y2="418.8" stroke="#111" stroke-width="1.3"/>
<text transform="translate(223.84 438) scale(1 1.14)" text-anchor="middle" font-size="22" class="tl">0.6</text>
<line x1="295.07" y1="414.3" x2="295.07" y2="418.8" stroke="#111" stroke-width="1.3"/>
<text transform="translate(295.07 438) scale(1 1.14)" text-anchor="middle" font-size="22" class="tl">0.8</text>
<line x1="366.3" y1="414.3" x2="366.3" y2="418.8" stroke="#111" stroke-width="1.3"/>
<text transform="translate(366.3 438) scale(1 1.14)" text-anchor="middle" font-size="22" class="tl">1.0</text>
<line x1="453.8" y1="166" x2="704.5" y2="166" stroke="#a0a0a0" stroke-width="1"/>
<line x1="704.5" y1="166" x2="704.5" y2="415" stroke="#a0a0a0" stroke-width="1"/>
<path d="M453.8 165.5 V415 H704.5" fill="none" stroke="#111" stroke-width="1.6"/>
<line x1="448.8" y1="166" x2="453.8" y2="166" stroke="#111" stroke-width="1.3"/>
<text transform="translate(447.6 172.6) scale(1 1.14)" text-anchor="end" font-size="22" class="tl">1.0</text>
<line x1="448.8" y1="237.14" x2="453.8" y2="237.14" stroke="#111" stroke-width="1.3"/>
<text transform="translate(447.6 243.74) scale(1 1.14)" text-anchor="end" font-size="22" class="tl">0.8</text>
<line x1="448.8" y1="308.29" x2="453.8" y2="308.29" stroke="#111" stroke-width="1.3"/>
<text transform="translate(447.6 314.89) scale(1 1.14)" text-anchor="end" font-size="22" class="tl">0.6</text>
<line x1="448.8" y1="379.43" x2="453.8" y2="379.43" stroke="#111" stroke-width="1.3"/>
<text transform="translate(447.6 386.03) scale(1 1.14)" text-anchor="end" font-size="22" class="tl">0.4</text>
<line x1="489.61" y1="415" x2="489.61" y2="419.5" stroke="#111" stroke-width="1.3"/>
<text transform="translate(489.61 439.2) scale(1 1.14)" text-anchor="middle" font-size="22" class="tl">0.4</text>
<line x1="561.24" y1="415" x2="561.24" y2="419.5" stroke="#111" stroke-width="1.3"/>
<text transform="translate(561.24 439.2) scale(1 1.14)" text-anchor="middle" font-size="22" class="tl">0.6</text>
<line x1="632.87" y1="415" x2="632.87" y2="419.5" stroke="#111" stroke-width="1.3"/>
<text transform="translate(632.87 439.2) scale(1 1.14)" text-anchor="middle" font-size="22" class="tl">0.8</text>
<line x1="704.5" y1="415" x2="704.5" y2="419.5" stroke="#111" stroke-width="1.3"/>
<text transform="translate(704.5 439.2) scale(1 1.14)" text-anchor="middle" font-size="22" class="tl">1.0</text>
<line x1="114" y1="557.8" x2="365" y2="557.8" stroke="#a0a0a0" stroke-width="1"/>
<line x1="365" y1="557.8" x2="365" y2="807" stroke="#a0a0a0" stroke-width="1"/>
<path d="M114 557.3 V807 H365" fill="none" stroke="#111" stroke-width="1.6"/>
<line x1="109" y1="557.8" x2="114" y2="557.8" stroke="#111" stroke-width="1.3"/>
<text transform="translate(108 564.4) scale(1 1.14)" text-anchor="end" font-size="22" class="tl">150</text>
<line x1="109" y1="638.19" x2="114" y2="638.19" stroke="#111" stroke-width="1.3"/>
<text transform="translate(108 644.79) scale(1 1.14)" text-anchor="end" font-size="22" class="tl">100</text>
<line x1="109" y1="718.57" x2="114" y2="718.57" stroke="#111" stroke-width="1.3"/>
<text transform="translate(108 725.17) scale(1 1.14)" text-anchor="end" font-size="22" class="tl">50</text>
<line x1="109" y1="798.96" x2="114" y2="798.96" stroke="#111" stroke-width="1.3"/>
<text transform="translate(108 805.56) scale(1 1.14)" text-anchor="end" font-size="22" class="tl">0</text>
<line x1="122.1" y1="807" x2="122.1" y2="811.5" stroke="#111" stroke-width="1.3"/>
<text transform="translate(122.1 830.7) scale(1 1.14)" text-anchor="middle" font-size="22" class="tl">0</text>
<line x1="203.06" y1="807" x2="203.06" y2="811.5" stroke="#111" stroke-width="1.3"/>
<text transform="translate(203.06 830.7) scale(1 1.14)" text-anchor="middle" font-size="22" class="tl">50</text>
<line x1="284.03" y1="807" x2="284.03" y2="811.5" stroke="#111" stroke-width="1.3"/>
<text transform="translate(284.03 830.7) scale(1 1.14)" text-anchor="middle" font-size="22" class="tl">100</text>
<line x1="365" y1="807" x2="365" y2="811.5" stroke="#111" stroke-width="1.3"/>
<text transform="translate(365 830.7) scale(1 1.14)" text-anchor="middle" font-size="22" class="tl">150</text>
<line x1="455.6" y1="557.8" x2="706.5" y2="557.8" stroke="#a0a0a0" stroke-width="1"/>
<line x1="706.5" y1="557.8" x2="706.5" y2="807" stroke="#a0a0a0" stroke-width="1"/>
<path d="M455.6 557.3 V807 H706.5" fill="none" stroke="#111" stroke-width="1.6"/>
<line x1="450.6" y1="557.8" x2="455.6" y2="557.8" stroke="#111" stroke-width="1.3"/>
<text transform="translate(449.3 564.4) scale(1 1.14)" text-anchor="end" font-size="22" class="tl">150</text>
<line x1="450.6" y1="638.19" x2="455.6" y2="638.19" stroke="#111" stroke-width="1.3"/>
<text transform="translate(449.3 644.79) scale(1 1.14)" text-anchor="end" font-size="22" class="tl">100</text>
<line x1="450.6" y1="718.57" x2="455.6" y2="718.57" stroke="#111" stroke-width="1.3"/>
<text transform="translate(449.3 725.17) scale(1 1.14)" text-anchor="end" font-size="22" class="tl">50</text>
<line x1="450.6" y1="798.96" x2="455.6" y2="798.96" stroke="#111" stroke-width="1.3"/>
<text transform="translate(449.3 805.56) scale(1 1.14)" text-anchor="end" font-size="22" class="tl">0</text>
<line x1="463.69" y1="807" x2="463.69" y2="811.5" stroke="#111" stroke-width="1.3"/>
<text transform="translate(463.69 830.7) scale(1 1.14)" text-anchor="middle" font-size="22" class="tl">0</text>
<line x1="544.63" y1="807" x2="544.63" y2="811.5" stroke="#111" stroke-width="1.3"/>
<text transform="translate(544.63 830.7) scale(1 1.14)" text-anchor="middle" font-size="22" class="tl">50</text>
<line x1="625.56" y1="807" x2="625.56" y2="811.5" stroke="#111" stroke-width="1.3"/>
<text transform="translate(625.56 830.7) scale(1 1.14)" text-anchor="middle" font-size="22" class="tl">100</text>
<line x1="706.5" y1="807" x2="706.5" y2="811.5" stroke="#111" stroke-width="1.3"/>
<text transform="translate(706.5 830.7) scale(1 1.14)" text-anchor="middle" font-size="22" class="tl">150</text>
<text transform="translate(141.11 47.00) scale(1.0118 1.0000)" font-size="47.5" font-weight="bold"><tspan>Rotation</tspan></text>
<text transform="translate(460.74 47.50) scale(1.0226 1.0000)" font-size="47.5" font-weight="bold"><tspan>Translation</tspan></text>
<text transform="translate(307.59 903.40) scale(1.0122 1.0000)" font-size="47.5" font-weight="bold"><tspan>Vestibular</tspan></text>
<text transform="translate(70.66 106.00) scale(1.0709 1.0382)" font-size="47.5" font-weight="bold"><tspan>A</tspan></text>
<text transform="translate(413.67 106.40) scale(0.9948 1.0565)" font-size="47.5" font-weight="bold"><tspan>B</tspan></text>
<text transform="translate(72.38 495.17) scale(0.9581 1.0519)" font-size="47.5" font-weight="bold"><tspan>C</tspan></text>
<text transform="translate(413.64 495.40) scale(1.0034 1.0565)" font-size="47.5" font-weight="bold"><tspan>D</tspan></text>
<text transform="translate(49.10 355.21) rotate(-90) scale(1.0237 1.0000)" font-size="47.5" font-weight="bold"><tspan>Visual</tspan></text>
<text transform="translate(49.70 742.41) rotate(-90) scale(1.0214 1.0000)" font-size="47.5" font-weight="bold"><tspan>Visual</tspan></text>
<text transform="translate(751.80 264.63) rotate(90) scale(1.0062 1.0336)" font-size="41" font-weight="bold"><tspan>DDI</tspan></text>
<text transform="translate(759.00 521.77) rotate(90) scale(0.9570 1.0000)" font-size="42" font-weight="bold"><tspan>R</tspan></text>
<text transform="translate(759.00 551.12) rotate(90) scale(0.9906 1.0000)" font-size="30.5" font-weight="bold"><tspan>max</tspan></text>
<text transform="translate(755.43 621.10) rotate(90) scale(1.0857 1.3263)" font-size="42" font-weight="bold"><tspan>-</tspan></text>
<text transform="translate(759.00 646.57) rotate(90) scale(0.9196 1.0000)" font-size="42" font-weight="bold"><tspan>R</tspan></text>
<text transform="translate(759.00 675.58) rotate(90) scale(1.0109 1.0000)" font-size="30.5" font-weight="bold"><tspan>min</tspan></text>
<text transform="translate(759.00 742.00) rotate(90) scale(1.0024 1.0000)" font-size="34" font-weight="bold"><tspan>(spk/s)</tspan></text>
</svg></body></html>
